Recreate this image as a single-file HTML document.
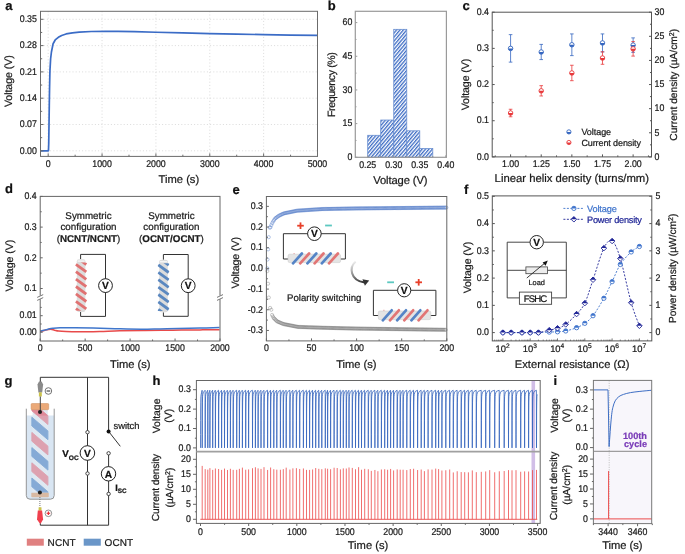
<!DOCTYPE html>
<html><head><meta charset="utf-8"><style>
html,body{margin:0;padding:0;background:#fff;}
body{width:685px;height:554px;overflow:hidden;}
svg{display:block;font-family:"Liberation Sans", sans-serif;will-change:transform;text-rendering:geometricPrecision;}
text{stroke:currentColor;stroke-width:0.22px;}
</style></head><body>
<svg width="685" height="554" viewBox="0 0 685 554">
<defs>
<pattern id="hatch" patternUnits="userSpaceOnUse" width="2.6" height="2.6" patternTransform="rotate(40)">
<rect width="2.6" height="2.6" fill="#fff"/><rect x="0" y="0" width="1.3" height="2.6" fill="#3d6cc4"/>
</pattern>
</defs>
<rect width="685" height="554" fill="#fff"/>
<line x1="48.2" y1="11.3" x2="48.2" y2="156.4" stroke="#d2d2d2" stroke-width="0.8" stroke-dasharray="1 2.2"/>
<line x1="102.06" y1="11.3" x2="102.06" y2="156.4" stroke="#d2d2d2" stroke-width="0.8" stroke-dasharray="1 2.2"/>
<line x1="155.92" y1="11.3" x2="155.92" y2="156.4" stroke="#d2d2d2" stroke-width="0.8" stroke-dasharray="1 2.2"/>
<line x1="209.78" y1="11.3" x2="209.78" y2="156.4" stroke="#d2d2d2" stroke-width="0.8" stroke-dasharray="1 2.2"/>
<line x1="263.64" y1="11.3" x2="263.64" y2="156.4" stroke="#d2d2d2" stroke-width="0.8" stroke-dasharray="1 2.2"/>
<line x1="40.5" y1="150.8" x2="317.5" y2="150.8" stroke="#d2d2d2" stroke-width="0.8" stroke-dasharray="1 2.2"/>
<line x1="40.5" y1="124.5" x2="317.5" y2="124.5" stroke="#d2d2d2" stroke-width="0.8" stroke-dasharray="1 2.2"/>
<line x1="40.5" y1="98.2" x2="317.5" y2="98.2" stroke="#d2d2d2" stroke-width="0.8" stroke-dasharray="1 2.2"/>
<line x1="40.5" y1="71.9" x2="317.5" y2="71.9" stroke="#d2d2d2" stroke-width="0.8" stroke-dasharray="1 2.2"/>
<line x1="40.5" y1="45.6" x2="317.5" y2="45.6" stroke="#d2d2d2" stroke-width="0.8" stroke-dasharray="1 2.2"/>
<line x1="40.5" y1="19.31" x2="317.5" y2="19.31" stroke="#d2d2d2" stroke-width="0.8" stroke-dasharray="1 2.2"/>
<path d="M40.12 150.8 L48.2 150.8 L48.47 150.8 L48.74 143.29 L49.01 124.5 L49.28 105.72 L49.55 88.81 L49.92 71.15 L50.62 58.75 L51.43 51.99 L53.1 43.73 L55.2 39.97 L58.33 37.34 L61.67 35.46 L66.08 33.96 L72.44 32.83 L79.22 32.08 L91.29 31.52 L105.4 31.33 L118.22 31.4 L134.38 31.7 L155.92 32.27 L182.85 32.91 L209.78 33.58 L236.71 34.15 L263.64 34.63 L290.57 35.08 L317.5 35.46" stroke="#3b6cc6" stroke-width="1.7" fill="none" stroke-linejoin="round"/>
<rect x="40.5" y="11.3" width="277" height="145.1" fill="none" stroke="#6b6b6b" stroke-width="1"/>
<line x1="40.5" y1="150.8" x2="43.5" y2="150.8" stroke="#6b6b6b" stroke-width="1"/>
<line x1="40.5" y1="124.5" x2="43.5" y2="124.5" stroke="#6b6b6b" stroke-width="1"/>
<line x1="40.5" y1="98.2" x2="43.5" y2="98.2" stroke="#6b6b6b" stroke-width="1"/>
<line x1="40.5" y1="71.9" x2="43.5" y2="71.9" stroke="#6b6b6b" stroke-width="1"/>
<line x1="40.5" y1="45.6" x2="43.5" y2="45.6" stroke="#6b6b6b" stroke-width="1"/>
<line x1="40.5" y1="19.31" x2="43.5" y2="19.31" stroke="#6b6b6b" stroke-width="1"/>
<line x1="40.5" y1="137.65" x2="42.2" y2="137.65" stroke="#6b6b6b" stroke-width="1"/>
<line x1="40.5" y1="111.35" x2="42.2" y2="111.35" stroke="#6b6b6b" stroke-width="1"/>
<line x1="40.5" y1="85.05" x2="42.2" y2="85.05" stroke="#6b6b6b" stroke-width="1"/>
<line x1="40.5" y1="58.75" x2="42.2" y2="58.75" stroke="#6b6b6b" stroke-width="1"/>
<line x1="40.5" y1="32.45" x2="42.2" y2="32.45" stroke="#6b6b6b" stroke-width="1"/>
<line x1="48.2" y1="156.4" x2="48.2" y2="153.4" stroke="#6b6b6b" stroke-width="1"/>
<line x1="102.06" y1="156.4" x2="102.06" y2="153.4" stroke="#6b6b6b" stroke-width="1"/>
<line x1="155.92" y1="156.4" x2="155.92" y2="153.4" stroke="#6b6b6b" stroke-width="1"/>
<line x1="209.78" y1="156.4" x2="209.78" y2="153.4" stroke="#6b6b6b" stroke-width="1"/>
<line x1="263.64" y1="156.4" x2="263.64" y2="153.4" stroke="#6b6b6b" stroke-width="1"/>
<line x1="317.5" y1="156.4" x2="317.5" y2="153.4" stroke="#6b6b6b" stroke-width="1"/>
<line x1="75.13" y1="156.4" x2="75.13" y2="154.7" stroke="#6b6b6b" stroke-width="1"/>
<line x1="128.99" y1="156.4" x2="128.99" y2="154.7" stroke="#6b6b6b" stroke-width="1"/>
<line x1="182.85" y1="156.4" x2="182.85" y2="154.7" stroke="#6b6b6b" stroke-width="1"/>
<line x1="236.71" y1="156.4" x2="236.71" y2="154.7" stroke="#6b6b6b" stroke-width="1"/>
<line x1="290.57" y1="156.4" x2="290.57" y2="154.7" stroke="#6b6b6b" stroke-width="1"/>
<text x="36.9" y="153.55" font-size="9.7" text-anchor="end" fill="#1a1a1a" color="#1a1a1a" textLength="17.12" lengthAdjust="spacingAndGlyphs">0.00</text>
<text x="36.9" y="127.25" font-size="9.7" text-anchor="end" fill="#1a1a1a" color="#1a1a1a" textLength="17.12" lengthAdjust="spacingAndGlyphs">0.07</text>
<text x="36.9" y="100.95" font-size="9.7" text-anchor="end" fill="#1a1a1a" color="#1a1a1a" textLength="17.12" lengthAdjust="spacingAndGlyphs">0.14</text>
<text x="36.9" y="74.65" font-size="9.7" text-anchor="end" fill="#1a1a1a" color="#1a1a1a" textLength="17.12" lengthAdjust="spacingAndGlyphs">0.21</text>
<text x="36.9" y="48.35" font-size="9.7" text-anchor="end" fill="#1a1a1a" color="#1a1a1a" textLength="17.12" lengthAdjust="spacingAndGlyphs">0.28</text>
<text x="36.9" y="22.06" font-size="9.7" text-anchor="end" fill="#1a1a1a" color="#1a1a1a" textLength="17.12" lengthAdjust="spacingAndGlyphs">0.35</text>
<text x="48.2" y="166.9" font-size="9.7" text-anchor="middle" fill="#1a1a1a" color="#1a1a1a" textLength="4.89" lengthAdjust="spacingAndGlyphs">0</text>
<text x="102.06" y="166.9" font-size="9.7" text-anchor="middle" fill="#1a1a1a" color="#1a1a1a" textLength="19.57" lengthAdjust="spacingAndGlyphs">1000</text>
<text x="155.92" y="166.9" font-size="9.7" text-anchor="middle" fill="#1a1a1a" color="#1a1a1a" textLength="19.57" lengthAdjust="spacingAndGlyphs">2000</text>
<text x="209.78" y="166.9" font-size="9.7" text-anchor="middle" fill="#1a1a1a" color="#1a1a1a" textLength="19.57" lengthAdjust="spacingAndGlyphs">3000</text>
<text x="263.64" y="166.9" font-size="9.7" text-anchor="middle" fill="#1a1a1a" color="#1a1a1a" textLength="19.57" lengthAdjust="spacingAndGlyphs">4000</text>
<text x="317.5" y="166.9" font-size="9.7" text-anchor="middle" fill="#1a1a1a" color="#1a1a1a" textLength="19.57" lengthAdjust="spacingAndGlyphs">5000</text>
<text x="178.85" y="182.9" font-size="11.2" text-anchor="middle" fill="#1a1a1a" color="#1a1a1a" textLength="40.7">Time (s)</text>
<text x="12.3" y="81.2" font-size="10.6" text-anchor="middle" fill="#1a1a1a" color="#1a1a1a" transform="rotate(-90 12.3 81.2)" textLength="51.8">Voltage (V)</text>
<text x="5.2" y="9.7" font-size="13" text-anchor="start" fill="#111" color="#111" font-weight="bold">a</text>
<rect x="367.7" y="135.3" width="13.02" height="22" fill="url(#hatch)" stroke="#6a8fd0" stroke-width="0.8"/>
<rect x="380.72" y="120.03" width="13.02" height="37.27" fill="url(#hatch)" stroke="#6a8fd0" stroke-width="0.8"/>
<rect x="393.74" y="29.34" width="13.02" height="127.97" fill="url(#hatch)" stroke="#6a8fd0" stroke-width="0.8"/>
<rect x="406.75" y="130.81" width="13.02" height="26.49" fill="url(#hatch)" stroke="#6a8fd0" stroke-width="0.8"/>
<rect x="419.77" y="148.54" width="13.02" height="8.76" fill="url(#hatch)" stroke="#6a8fd0" stroke-width="0.8"/>
<rect x="355.3" y="11.3" width="91.1" height="146" fill="none" stroke="#9a9a9a" stroke-width="1.2"/>
<line x1="355.3" y1="157.3" x2="357.3" y2="157.3" stroke="#9a9a9a" stroke-width="1"/>
<line x1="355.3" y1="123.62" x2="357.3" y2="123.62" stroke="#9a9a9a" stroke-width="1"/>
<line x1="355.3" y1="89.95" x2="357.3" y2="89.95" stroke="#9a9a9a" stroke-width="1"/>
<line x1="355.3" y1="56.28" x2="357.3" y2="56.28" stroke="#9a9a9a" stroke-width="1"/>
<line x1="355.3" y1="22.6" x2="357.3" y2="22.6" stroke="#9a9a9a" stroke-width="1"/>
<line x1="355.3" y1="140.46" x2="356.5" y2="140.46" stroke="#9a9a9a" stroke-width="1"/>
<line x1="355.3" y1="106.79" x2="356.5" y2="106.79" stroke="#9a9a9a" stroke-width="1"/>
<line x1="355.3" y1="73.11" x2="356.5" y2="73.11" stroke="#9a9a9a" stroke-width="1"/>
<line x1="355.3" y1="39.44" x2="356.5" y2="39.44" stroke="#9a9a9a" stroke-width="1"/>
<line x1="367.7" y1="157.3" x2="367.7" y2="155.3" stroke="#9a9a9a" stroke-width="1"/>
<line x1="393.74" y1="157.3" x2="393.74" y2="155.3" stroke="#9a9a9a" stroke-width="1"/>
<line x1="419.77" y1="157.3" x2="419.77" y2="155.3" stroke="#9a9a9a" stroke-width="1"/>
<line x1="445.81" y1="157.3" x2="445.81" y2="155.3" stroke="#9a9a9a" stroke-width="1"/>
<line x1="380.72" y1="157.3" x2="380.72" y2="156.1" stroke="#9a9a9a" stroke-width="1"/>
<line x1="406.75" y1="157.3" x2="406.75" y2="156.1" stroke="#9a9a9a" stroke-width="1"/>
<line x1="432.79" y1="157.3" x2="432.79" y2="156.1" stroke="#9a9a9a" stroke-width="1"/>
<text x="352.3" y="160.05" font-size="9.7" text-anchor="end" fill="#1a1a1a" color="#1a1a1a" textLength="4.89" lengthAdjust="spacingAndGlyphs">0</text>
<text x="352.3" y="126.38" font-size="9.7" text-anchor="end" fill="#1a1a1a" color="#1a1a1a" textLength="9.79" lengthAdjust="spacingAndGlyphs">15</text>
<text x="352.3" y="92.7" font-size="9.7" text-anchor="end" fill="#1a1a1a" color="#1a1a1a" textLength="9.79" lengthAdjust="spacingAndGlyphs">30</text>
<text x="352.3" y="59.03" font-size="9.7" text-anchor="end" fill="#1a1a1a" color="#1a1a1a" textLength="9.79" lengthAdjust="spacingAndGlyphs">45</text>
<text x="352.3" y="25.35" font-size="9.7" text-anchor="end" fill="#1a1a1a" color="#1a1a1a" textLength="9.79" lengthAdjust="spacingAndGlyphs">60</text>
<text x="367.7" y="167.6" font-size="9.7" text-anchor="middle" fill="#1a1a1a" color="#1a1a1a" textLength="17.12" lengthAdjust="spacingAndGlyphs">0.25</text>
<text x="393.74" y="167.6" font-size="9.7" text-anchor="middle" fill="#1a1a1a" color="#1a1a1a" textLength="17.12" lengthAdjust="spacingAndGlyphs">0.30</text>
<text x="419.77" y="167.6" font-size="9.7" text-anchor="middle" fill="#1a1a1a" color="#1a1a1a" textLength="17.12" lengthAdjust="spacingAndGlyphs">0.35</text>
<text x="445.81" y="167.6" font-size="9.7" text-anchor="middle" fill="#1a1a1a" color="#1a1a1a" textLength="17.12" lengthAdjust="spacingAndGlyphs">0.40</text>
<text x="400.35" y="183.8" font-size="11.2" text-anchor="middle" fill="#1a1a1a" color="#1a1a1a" textLength="54.3">Voltage (V)</text>
<text x="335.5" y="84.6" font-size="10.6" text-anchor="middle" fill="#1a1a1a" color="#1a1a1a" transform="rotate(-90 335.5 84.6)" textLength="64.9">Frequency (%)</text>
<text x="327.7" y="9.8" font-size="13" text-anchor="start" fill="#111" color="#111" font-weight="bold">b</text>
<line x1="510.58" y1="34.63" x2="510.58" y2="62.12" stroke="#3566c0" stroke-width="0.8"/>
<line x1="508.78" y1="34.63" x2="512.38" y2="34.63" stroke="#3566c0" stroke-width="0.8"/>
<line x1="508.78" y1="62.12" x2="512.38" y2="62.12" stroke="#3566c0" stroke-width="0.8"/>
<line x1="541.22" y1="44.4" x2="541.22" y2="59.59" stroke="#3566c0" stroke-width="0.8"/>
<line x1="539.42" y1="44.4" x2="543.02" y2="44.4" stroke="#3566c0" stroke-width="0.8"/>
<line x1="539.42" y1="59.59" x2="543.02" y2="59.59" stroke="#3566c0" stroke-width="0.8"/>
<line x1="571.85" y1="33.91" x2="571.85" y2="55.61" stroke="#3566c0" stroke-width="0.8"/>
<line x1="570.05" y1="33.91" x2="573.65" y2="33.91" stroke="#3566c0" stroke-width="0.8"/>
<line x1="570.05" y1="55.61" x2="573.65" y2="55.61" stroke="#3566c0" stroke-width="0.8"/>
<line x1="602.49" y1="33.91" x2="602.49" y2="51.99" stroke="#3566c0" stroke-width="0.8"/>
<line x1="600.69" y1="33.91" x2="604.29" y2="33.91" stroke="#3566c0" stroke-width="0.8"/>
<line x1="600.69" y1="51.99" x2="604.29" y2="51.99" stroke="#3566c0" stroke-width="0.8"/>
<line x1="633.12" y1="37.88" x2="633.12" y2="52.35" stroke="#3566c0" stroke-width="0.8"/>
<line x1="631.32" y1="37.88" x2="634.92" y2="37.88" stroke="#3566c0" stroke-width="0.8"/>
<line x1="631.32" y1="52.35" x2="634.92" y2="52.35" stroke="#3566c0" stroke-width="0.8"/>
<line x1="510.58" y1="109.25" x2="510.58" y2="116.77" stroke="#e8383a" stroke-width="0.8"/>
<line x1="508.78" y1="109.25" x2="512.38" y2="109.25" stroke="#e8383a" stroke-width="0.8"/>
<line x1="508.78" y1="116.77" x2="512.38" y2="116.77" stroke="#e8383a" stroke-width="0.8"/>
<line x1="541.22" y1="85.66" x2="541.22" y2="95.98" stroke="#e8383a" stroke-width="0.8"/>
<line x1="539.42" y1="85.66" x2="543.02" y2="85.66" stroke="#e8383a" stroke-width="0.8"/>
<line x1="539.42" y1="95.98" x2="543.02" y2="95.98" stroke="#e8383a" stroke-width="0.8"/>
<line x1="571.85" y1="65.26" x2="571.85" y2="80.69" stroke="#e8383a" stroke-width="0.8"/>
<line x1="570.05" y1="65.26" x2="573.65" y2="65.26" stroke="#e8383a" stroke-width="0.8"/>
<line x1="570.05" y1="80.69" x2="573.65" y2="80.69" stroke="#e8383a" stroke-width="0.8"/>
<line x1="602.49" y1="51.75" x2="602.49" y2="64.29" stroke="#e8383a" stroke-width="0.8"/>
<line x1="600.69" y1="51.75" x2="604.29" y2="51.75" stroke="#e8383a" stroke-width="0.8"/>
<line x1="600.69" y1="64.29" x2="604.29" y2="64.29" stroke="#e8383a" stroke-width="0.8"/>
<line x1="633.12" y1="41.62" x2="633.12" y2="56.09" stroke="#e8383a" stroke-width="0.8"/>
<line x1="631.32" y1="41.62" x2="634.92" y2="41.62" stroke="#e8383a" stroke-width="0.8"/>
<line x1="631.32" y1="56.09" x2="634.92" y2="56.09" stroke="#e8383a" stroke-width="0.8"/>
<circle cx="510.58" cy="48.38" r="2.25" fill="#fff" stroke="#3566c0" stroke-width="0.9"/>
<path d="M508.33 48.38 A2.25 2.25 0 0 0 512.83 48.38 Z" stroke="none" stroke-width="1" fill="#3566c0"/>
<circle cx="541.22" cy="51.99" r="2.25" fill="#fff" stroke="#3566c0" stroke-width="0.9"/>
<path d="M538.97 51.99 A2.25 2.25 0 0 0 543.47 51.99 Z" stroke="none" stroke-width="1" fill="#3566c0"/>
<circle cx="571.85" cy="44.76" r="2.25" fill="#fff" stroke="#3566c0" stroke-width="0.9"/>
<path d="M569.6 44.76 A2.25 2.25 0 0 0 574.1 44.76 Z" stroke="none" stroke-width="1" fill="#3566c0"/>
<circle cx="602.49" cy="42.95" r="2.25" fill="#fff" stroke="#3566c0" stroke-width="0.9"/>
<path d="M600.24 42.95 A2.25 2.25 0 0 0 604.74 42.95 Z" stroke="none" stroke-width="1" fill="#3566c0"/>
<circle cx="633.12" cy="45.12" r="2.25" fill="#fff" stroke="#3566c0" stroke-width="0.9"/>
<path d="M630.87 45.12 A2.25 2.25 0 0 0 635.37 45.12 Z" stroke="none" stroke-width="1" fill="#3566c0"/>
<circle cx="510.58" cy="113.01" r="2.25" fill="#fff" stroke="#e8383a" stroke-width="0.9"/>
<path d="M508.33 113.01 A2.25 2.25 0 0 0 512.83 113.01 Z" stroke="none" stroke-width="1" fill="#e8383a"/>
<circle cx="541.22" cy="90.82" r="2.25" fill="#fff" stroke="#e8383a" stroke-width="0.9"/>
<path d="M538.97 90.82 A2.25 2.25 0 0 0 543.47 90.82 Z" stroke="none" stroke-width="1" fill="#e8383a"/>
<circle cx="571.85" cy="72.97" r="2.25" fill="#fff" stroke="#e8383a" stroke-width="0.9"/>
<path d="M569.6 72.97 A2.25 2.25 0 0 0 574.1 72.97 Z" stroke="none" stroke-width="1" fill="#e8383a"/>
<circle cx="602.49" cy="58.02" r="2.25" fill="#fff" stroke="#e8383a" stroke-width="0.9"/>
<path d="M600.24 58.02 A2.25 2.25 0 0 0 604.74 58.02 Z" stroke="none" stroke-width="1" fill="#e8383a"/>
<circle cx="633.12" cy="48.86" r="2.25" fill="#fff" stroke="#e8383a" stroke-width="0.9"/>
<path d="M630.87 48.86 A2.25 2.25 0 0 0 635.37 48.86 Z" stroke="none" stroke-width="1" fill="#e8383a"/>
<rect x="492.2" y="12.2" width="159.3" height="144.7" fill="none" stroke="#555" stroke-width="1"/>
<line x1="492.2" y1="156.9" x2="494.7" y2="156.9" stroke="#555" stroke-width="1"/>
<line x1="492.2" y1="120.72" x2="494.7" y2="120.72" stroke="#555" stroke-width="1"/>
<line x1="492.2" y1="84.55" x2="494.7" y2="84.55" stroke="#555" stroke-width="1"/>
<line x1="492.2" y1="48.38" x2="494.7" y2="48.38" stroke="#555" stroke-width="1"/>
<line x1="492.2" y1="12.2" x2="494.7" y2="12.2" stroke="#555" stroke-width="1"/>
<line x1="492.2" y1="138.81" x2="493.7" y2="138.81" stroke="#555" stroke-width="1"/>
<line x1="492.2" y1="102.64" x2="493.7" y2="102.64" stroke="#555" stroke-width="1"/>
<line x1="492.2" y1="66.46" x2="493.7" y2="66.46" stroke="#555" stroke-width="1"/>
<line x1="492.2" y1="30.29" x2="493.7" y2="30.29" stroke="#555" stroke-width="1"/>
<line x1="651.5" y1="156.9" x2="649" y2="156.9" stroke="#555" stroke-width="1"/>
<line x1="651.5" y1="132.78" x2="649" y2="132.78" stroke="#555" stroke-width="1"/>
<line x1="651.5" y1="108.67" x2="649" y2="108.67" stroke="#555" stroke-width="1"/>
<line x1="651.5" y1="84.55" x2="649" y2="84.55" stroke="#555" stroke-width="1"/>
<line x1="651.5" y1="60.43" x2="649" y2="60.43" stroke="#555" stroke-width="1"/>
<line x1="651.5" y1="36.32" x2="649" y2="36.32" stroke="#555" stroke-width="1"/>
<line x1="651.5" y1="12.2" x2="649" y2="12.2" stroke="#555" stroke-width="1"/>
<line x1="651.5" y1="144.84" x2="650" y2="144.84" stroke="#555" stroke-width="1"/>
<line x1="651.5" y1="120.73" x2="650" y2="120.73" stroke="#555" stroke-width="1"/>
<line x1="651.5" y1="96.61" x2="650" y2="96.61" stroke="#555" stroke-width="1"/>
<line x1="651.5" y1="72.49" x2="650" y2="72.49" stroke="#555" stroke-width="1"/>
<line x1="651.5" y1="48.38" x2="650" y2="48.38" stroke="#555" stroke-width="1"/>
<line x1="651.5" y1="24.26" x2="650" y2="24.26" stroke="#555" stroke-width="1"/>
<line x1="510.58" y1="156.9" x2="510.58" y2="154.4" stroke="#555" stroke-width="1"/>
<line x1="541.22" y1="156.9" x2="541.22" y2="154.4" stroke="#555" stroke-width="1"/>
<line x1="571.85" y1="156.9" x2="571.85" y2="154.4" stroke="#555" stroke-width="1"/>
<line x1="602.49" y1="156.9" x2="602.49" y2="154.4" stroke="#555" stroke-width="1"/>
<line x1="633.12" y1="156.9" x2="633.12" y2="154.4" stroke="#555" stroke-width="1"/>
<line x1="495.26" y1="156.9" x2="495.26" y2="155.4" stroke="#555" stroke-width="1"/>
<line x1="525.9" y1="156.9" x2="525.9" y2="155.4" stroke="#555" stroke-width="1"/>
<line x1="556.53" y1="156.9" x2="556.53" y2="155.4" stroke="#555" stroke-width="1"/>
<line x1="587.17" y1="156.9" x2="587.17" y2="155.4" stroke="#555" stroke-width="1"/>
<line x1="617.8" y1="156.9" x2="617.8" y2="155.4" stroke="#555" stroke-width="1"/>
<line x1="648.44" y1="156.9" x2="648.44" y2="155.4" stroke="#555" stroke-width="1"/>
<text x="489" y="159.65" font-size="9.7" text-anchor="end" fill="#1a1a1a" color="#1a1a1a" textLength="12.23" lengthAdjust="spacingAndGlyphs">0.0</text>
<text x="489" y="123.47" font-size="9.7" text-anchor="end" fill="#1a1a1a" color="#1a1a1a" textLength="12.23" lengthAdjust="spacingAndGlyphs">0.1</text>
<text x="489" y="87.3" font-size="9.7" text-anchor="end" fill="#1a1a1a" color="#1a1a1a" textLength="12.23" lengthAdjust="spacingAndGlyphs">0.2</text>
<text x="489" y="51.13" font-size="9.7" text-anchor="end" fill="#1a1a1a" color="#1a1a1a" textLength="12.23" lengthAdjust="spacingAndGlyphs">0.3</text>
<text x="489" y="14.95" font-size="9.7" text-anchor="end" fill="#1a1a1a" color="#1a1a1a" textLength="12.23" lengthAdjust="spacingAndGlyphs">0.4</text>
<text x="654.5" y="159.65" font-size="9.7" text-anchor="start" fill="#1a1a1a" color="#1a1a1a" textLength="4.89" lengthAdjust="spacingAndGlyphs">0</text>
<text x="654.5" y="135.53" font-size="9.7" text-anchor="start" fill="#1a1a1a" color="#1a1a1a" textLength="4.89" lengthAdjust="spacingAndGlyphs">5</text>
<text x="654.5" y="111.42" font-size="9.7" text-anchor="start" fill="#1a1a1a" color="#1a1a1a" textLength="9.79" lengthAdjust="spacingAndGlyphs">10</text>
<text x="654.5" y="87.3" font-size="9.7" text-anchor="start" fill="#1a1a1a" color="#1a1a1a" textLength="9.79" lengthAdjust="spacingAndGlyphs">15</text>
<text x="654.5" y="63.18" font-size="9.7" text-anchor="start" fill="#1a1a1a" color="#1a1a1a" textLength="9.79" lengthAdjust="spacingAndGlyphs">20</text>
<text x="654.5" y="39.07" font-size="9.7" text-anchor="start" fill="#1a1a1a" color="#1a1a1a" textLength="9.79" lengthAdjust="spacingAndGlyphs">25</text>
<text x="654.5" y="14.95" font-size="9.7" text-anchor="start" fill="#1a1a1a" color="#1a1a1a" textLength="9.79" lengthAdjust="spacingAndGlyphs">30</text>
<text x="510.58" y="166.8" font-size="9.7" text-anchor="middle" fill="#1a1a1a" color="#1a1a1a" textLength="17.12" lengthAdjust="spacingAndGlyphs">1.00</text>
<text x="541.22" y="166.8" font-size="9.7" text-anchor="middle" fill="#1a1a1a" color="#1a1a1a" textLength="17.12" lengthAdjust="spacingAndGlyphs">1.25</text>
<text x="571.85" y="166.8" font-size="9.7" text-anchor="middle" fill="#1a1a1a" color="#1a1a1a" textLength="17.12" lengthAdjust="spacingAndGlyphs">1.50</text>
<text x="602.49" y="166.8" font-size="9.7" text-anchor="middle" fill="#1a1a1a" color="#1a1a1a" textLength="17.12" lengthAdjust="spacingAndGlyphs">1.75</text>
<text x="633.12" y="166.8" font-size="9.7" text-anchor="middle" fill="#1a1a1a" color="#1a1a1a" textLength="17.12" lengthAdjust="spacingAndGlyphs">2.00</text>
<text x="571.8" y="182" font-size="11.3" text-anchor="middle" fill="#1a1a1a" color="#1a1a1a" textLength="154.4">Linear helix density (turns/mm)</text>
<text x="468.8" y="84.5" font-size="10.6" text-anchor="middle" fill="#1a1a1a" color="#1a1a1a" transform="rotate(-90 468.8 84.5)" textLength="51.6">Voltage (V)</text>
<text x="677.5" y="84.8" font-size="10.200000000000001" text-anchor="middle" fill="#1a1a1a" color="#1a1a1a" transform="rotate(-90 677.5 84.8)">Current density (µA/cm<tspan dy="-3.5" font-size="7">2</tspan><tspan dy="3.5">)</tspan></text>
<circle cx="568.9" cy="131.9" r="2.1" fill="#fff" stroke="#3566c0" stroke-width="0.9"/>
<path d="M566.8 131.9 A2.1 2.1 0 0 0 571 131.9 Z" stroke="none" stroke-width="1" fill="#3566c0"/>
<circle cx="568.9" cy="142.5" r="2.1" fill="#fff" stroke="#e8383a" stroke-width="0.9"/>
<path d="M566.8 142.5 A2.1 2.1 0 0 0 571 142.5 Z" stroke="none" stroke-width="1" fill="#e8383a"/>
<text x="581.4" y="135.2" font-size="9.0" text-anchor="start" fill="#1a1a1a" color="#1a1a1a" textLength="29.7">Voltage</text>
<text x="581.4" y="145.8" font-size="9.0" text-anchor="start" fill="#1a1a1a" color="#1a1a1a" textLength="59.6">Current density</text>
<text x="462.5" y="9.7" font-size="13" text-anchor="start" fill="#111" color="#111" font-weight="bold">c</text>
<path d="M40.2 331.5 C41 331.28 43.27 330.57 45 330.2 C46.73 329.83 49.02 329.3 50.6 329.3 C52.18 329.3 53.17 329.9 54.5 330.2 C55.83 330.5 56.68 330.87 58.6 331.1 C60.52 331.33 62.43 331.48 66 331.6 C69.57 331.72 74.33 331.83 80 331.8 C85.67 331.77 93.38 331.57 100 331.4 C106.62 331.23 112.2 330.95 119.7 330.8 C127.2 330.65 136.15 330.6 145 330.5 C153.85 330.4 163.63 330.3 172.8 330.2 C181.97 330.1 192.22 329.98 200 329.9 C207.78 329.82 216.25 329.73 219.5 329.7" stroke="#e84a4a" stroke-width="1.5" fill="none"/>
<path d="M40.2 331.3 C40.83 331.12 42.7 330.55 44 330.2 C45.3 329.85 46.5 329.52 48 329.2 C49.5 328.88 51 328.53 53 328.3 C55 328.07 56.33 327.88 60 327.8 C63.67 327.72 69.5 327.75 75 327.8 C80.5 327.85 86.33 327.95 93 328.1 C99.67 328.25 107 328.52 115 328.7 C123 328.88 133.5 329.17 141 329.2 C148.5 329.23 153.83 329 160 328.9 C166.17 328.8 171.33 328.73 178 328.6 C184.67 328.47 193.08 328.27 200 328.1 C206.92 327.93 216.25 327.68 219.5 327.6" stroke="#3f76cc" stroke-width="1.5" fill="none"/>
<rect x="40.2" y="196.4" width="179.8" height="144.6" fill="none" stroke="#666" stroke-width="1"/>
<line x1="40.2" y1="288.5" x2="42.7" y2="288.5" stroke="#666" stroke-width="1"/>
<line x1="40.2" y1="257.8" x2="42.7" y2="257.8" stroke="#666" stroke-width="1"/>
<line x1="40.2" y1="227.1" x2="42.7" y2="227.1" stroke="#666" stroke-width="1"/>
<line x1="40.2" y1="196.4" x2="42.7" y2="196.4" stroke="#666" stroke-width="1"/>
<line x1="40.2" y1="273.15" x2="41.7" y2="273.15" stroke="#666" stroke-width="1"/>
<line x1="40.2" y1="242.45" x2="41.7" y2="242.45" stroke="#666" stroke-width="1"/>
<line x1="40.2" y1="211.75" x2="41.7" y2="211.75" stroke="#666" stroke-width="1"/>
<line x1="40.2" y1="332.3" x2="42.7" y2="332.3" stroke="#666" stroke-width="1"/>
<line x1="40.2" y1="315.7" x2="42.7" y2="315.7" stroke="#666" stroke-width="1"/>
<line x1="40.2" y1="324" x2="41.7" y2="324" stroke="#666" stroke-width="1"/>
<line x1="40.2" y1="307.4" x2="41.7" y2="307.4" stroke="#666" stroke-width="1"/>
<line x1="40.2" y1="341" x2="40.2" y2="338.5" stroke="#666" stroke-width="1"/>
<line x1="85.15" y1="341" x2="85.15" y2="338.5" stroke="#666" stroke-width="1"/>
<line x1="130.1" y1="341" x2="130.1" y2="338.5" stroke="#666" stroke-width="1"/>
<line x1="175.05" y1="341" x2="175.05" y2="338.5" stroke="#666" stroke-width="1"/>
<line x1="220" y1="341" x2="220" y2="338.5" stroke="#666" stroke-width="1"/>
<line x1="62.67" y1="341" x2="62.67" y2="339.5" stroke="#666" stroke-width="1"/>
<line x1="107.62" y1="341" x2="107.62" y2="339.5" stroke="#666" stroke-width="1"/>
<line x1="152.57" y1="341" x2="152.57" y2="339.5" stroke="#666" stroke-width="1"/>
<line x1="197.52" y1="341" x2="197.52" y2="339.5" stroke="#666" stroke-width="1"/>
<rect x="37.2" y="295.6" width="6" height="3.6" fill="#fff" stroke="none" stroke-width="1"/>
<line x1="37.2" y1="297.4" x2="43.2" y2="294.6" stroke="#666" stroke-width="0.9"/>
<line x1="37.2" y1="300.4" x2="43.2" y2="297.6" stroke="#666" stroke-width="0.9"/>
<rect x="217" y="295.6" width="6" height="3.6" fill="#fff" stroke="none" stroke-width="1"/>
<line x1="217" y1="297.4" x2="223" y2="294.6" stroke="#666" stroke-width="0.9"/>
<line x1="217" y1="300.4" x2="223" y2="297.6" stroke="#666" stroke-width="0.9"/>
<text x="36.7" y="291.25" font-size="9.7" text-anchor="end" fill="#1a1a1a" color="#1a1a1a" textLength="12.23" lengthAdjust="spacingAndGlyphs">0.1</text>
<text x="36.7" y="260.55" font-size="9.7" text-anchor="end" fill="#1a1a1a" color="#1a1a1a" textLength="12.23" lengthAdjust="spacingAndGlyphs">0.2</text>
<text x="36.7" y="229.85" font-size="9.7" text-anchor="end" fill="#1a1a1a" color="#1a1a1a" textLength="12.23" lengthAdjust="spacingAndGlyphs">0.3</text>
<text x="36.7" y="199.15" font-size="9.7" text-anchor="end" fill="#1a1a1a" color="#1a1a1a" textLength="12.23" lengthAdjust="spacingAndGlyphs">0.4</text>
<text x="36.7" y="335.05" font-size="9.7" text-anchor="end" fill="#1a1a1a" color="#1a1a1a" textLength="17.12" lengthAdjust="spacingAndGlyphs">0.00</text>
<text x="36.7" y="318.45" font-size="9.7" text-anchor="end" fill="#1a1a1a" color="#1a1a1a" textLength="17.12" lengthAdjust="spacingAndGlyphs">0.01</text>
<text x="40.2" y="351" font-size="9.7" text-anchor="middle" fill="#1a1a1a" color="#1a1a1a" textLength="4.89" lengthAdjust="spacingAndGlyphs">0</text>
<text x="85.15" y="351" font-size="9.7" text-anchor="middle" fill="#1a1a1a" color="#1a1a1a" textLength="14.68" lengthAdjust="spacingAndGlyphs">500</text>
<text x="130.1" y="351" font-size="9.7" text-anchor="middle" fill="#1a1a1a" color="#1a1a1a" textLength="19.57" lengthAdjust="spacingAndGlyphs">1000</text>
<text x="175.05" y="351" font-size="9.7" text-anchor="middle" fill="#1a1a1a" color="#1a1a1a" textLength="19.57" lengthAdjust="spacingAndGlyphs">1500</text>
<text x="220" y="351" font-size="9.7" text-anchor="middle" fill="#1a1a1a" color="#1a1a1a" textLength="19.57" lengthAdjust="spacingAndGlyphs">2000</text>
<text x="130.3" y="368.1" font-size="11.2" text-anchor="middle" fill="#1a1a1a" color="#1a1a1a" textLength="40.6">Time (s)</text>
<text x="12.9" y="265.7" font-size="10.6" text-anchor="middle" fill="#1a1a1a" color="#1a1a1a" transform="rotate(-90 12.9 265.7)" textLength="51.8">Voltage (V)</text>
<text x="5" y="193.4" font-size="13" text-anchor="start" fill="#111" color="#111" font-weight="bold">d</text>
<path d="M80.6 259.2 L80.6 254.4 L105.5 254.4 L105.5 316.4 L80.6 316.4 L80.6 312" stroke="#333" stroke-width="1" fill="none"/>
<rect x="76.8" y="259.2" width="8.6" height="52.8" fill="#dcdcdc" stroke="none" stroke-width="1" rx="2" ry="2"/>
<rect x="77.6" y="260.4" width="7" height="1.4" fill="#f5f5f5" stroke="none" stroke-width="1"/>
<clipPath id="cd1"><rect x="75.1" y="262.6" width="12" height="48.2"/></clipPath>
<g clip-path="url(#cd1)"><line x1="75.9" y1="256.9" x2="86.3" y2="264.5" stroke="#e07272" stroke-width="2.8"/><line x1="75.9" y1="264.3" x2="86.3" y2="271.9" stroke="#e07272" stroke-width="2.8"/><line x1="75.9" y1="271.7" x2="86.3" y2="279.3" stroke="#e07272" stroke-width="2.8"/><line x1="75.9" y1="279.1" x2="86.3" y2="286.7" stroke="#e07272" stroke-width="2.8"/><line x1="75.9" y1="286.5" x2="86.3" y2="294.1" stroke="#e07272" stroke-width="2.8"/><line x1="75.9" y1="293.9" x2="86.3" y2="301.5" stroke="#e07272" stroke-width="2.8"/><line x1="75.9" y1="301.3" x2="86.3" y2="308.9" stroke="#e07272" stroke-width="2.8"/><line x1="75.9" y1="308.7" x2="86.3" y2="316.3" stroke="#e07272" stroke-width="2.8"/></g>
<circle cx="105.5" cy="285.6" r="6.9" fill="#fff" stroke="#222" stroke-width="1"/>
<text x="105.5" y="289.2" font-size="10.2" text-anchor="middle" fill="#111" color="#111" font-weight="bold">V</text>
<path d="M163.4 259.8 L163.4 254.5 L188.2 254.5 L188.2 316.3 L163.4 316.3 L163.4 312.3" stroke="#333" stroke-width="1" fill="none"/>
<rect x="159.2" y="259.8" width="8.6" height="52.5" fill="#dcdcdc" stroke="none" stroke-width="1" rx="2" ry="2"/>
<rect x="160" y="261" width="7" height="1.4" fill="#f5f5f5" stroke="none" stroke-width="1"/>
<clipPath id="cd2"><rect x="157.5" y="263.2" width="12" height="47.9"/></clipPath>
<g clip-path="url(#cd2)"><line x1="158.3" y1="257.5" x2="168.7" y2="265.1" stroke="#5b88c0" stroke-width="2.8"/><line x1="158.3" y1="264.9" x2="168.7" y2="272.5" stroke="#5b88c0" stroke-width="2.8"/><line x1="158.3" y1="272.3" x2="168.7" y2="279.9" stroke="#5b88c0" stroke-width="2.8"/><line x1="158.3" y1="279.7" x2="168.7" y2="287.3" stroke="#5b88c0" stroke-width="2.8"/><line x1="158.3" y1="287.1" x2="168.7" y2="294.7" stroke="#5b88c0" stroke-width="2.8"/><line x1="158.3" y1="294.5" x2="168.7" y2="302.1" stroke="#5b88c0" stroke-width="2.8"/><line x1="158.3" y1="301.9" x2="168.7" y2="309.5" stroke="#5b88c0" stroke-width="2.8"/><line x1="158.3" y1="309.3" x2="168.7" y2="316.9" stroke="#5b88c0" stroke-width="2.8"/></g>
<circle cx="188.2" cy="285.7" r="6.9" fill="#fff" stroke="#222" stroke-width="1"/>
<text x="188.2" y="289.3" font-size="10.2" text-anchor="middle" fill="#111" color="#111" font-weight="bold">V</text>
<text x="88.5" y="219" font-size="9.8" text-anchor="middle" fill="#1a1a1a" color="#1a1a1a">Symmetric</text>
<text x="88.5" y="229.8" font-size="9.8" text-anchor="middle" fill="#1a1a1a" color="#1a1a1a">configuration</text>
<text x="88.5" y="241.6" font-size="9.8" text-anchor="middle" fill="#1a1a1a" color="#1a1a1a">(<tspan font-weight="bold">NCNT/NCNT</tspan>)</text>
<text x="171.4" y="219" font-size="9.8" text-anchor="middle" fill="#1a1a1a" color="#1a1a1a">Symmetric</text>
<text x="171.4" y="229.8" font-size="9.8" text-anchor="middle" fill="#1a1a1a" color="#1a1a1a">configuration</text>
<text x="171.4" y="241.6" font-size="9.8" text-anchor="middle" fill="#1a1a1a" color="#1a1a1a">(<tspan font-weight="bold">OCNT/OCNT</tspan>)</text>
<circle cx="267.3" cy="268.4" r="1.6" fill="none" stroke="#3f6cc2" stroke-width="0.38"/>
<circle cx="267.48" cy="259.51" r="1.6" fill="none" stroke="#3f6cc2" stroke-width="0.38"/>
<circle cx="268.11" cy="249.37" r="1.6" fill="none" stroke="#3f6cc2" stroke-width="0.38"/>
<circle cx="268.75" cy="237.17" r="1.6" fill="none" stroke="#3f6cc2" stroke-width="0.38"/>
<circle cx="269.65" cy="227.66" r="1.6" fill="none" stroke="#3f6cc2" stroke-width="0.38"/>
<circle cx="270.46" cy="227.27" r="1.6" fill="none" stroke="#3f6cc2" stroke-width="0.38"/>
<circle cx="271.36" cy="225.03" r="1.6" fill="none" stroke="#3f6cc2" stroke-width="0.38"/>
<circle cx="272.26" cy="223.06" r="1.6" fill="none" stroke="#3f6cc2" stroke-width="0.38"/>
<circle cx="273.16" cy="221.4" r="1.6" fill="none" stroke="#3f6cc2" stroke-width="0.38"/>
<circle cx="274.07" cy="220.05" r="1.6" fill="none" stroke="#3f6cc2" stroke-width="0.38"/>
<circle cx="274.97" cy="218.7" r="1.6" fill="none" stroke="#3f6cc2" stroke-width="0.38"/>
<circle cx="275.87" cy="217.97" r="1.6" fill="none" stroke="#3f6cc2" stroke-width="0.38"/>
<circle cx="276.77" cy="217.31" r="1.6" fill="none" stroke="#3f6cc2" stroke-width="0.38"/>
<circle cx="277.67" cy="216.65" r="1.6" fill="none" stroke="#3f6cc2" stroke-width="0.38"/>
<circle cx="278.58" cy="215.99" r="1.6" fill="none" stroke="#3f6cc2" stroke-width="0.38"/>
<circle cx="279.48" cy="215.46" r="1.6" fill="none" stroke="#3f6cc2" stroke-width="0.38"/>
<circle cx="280.38" cy="215.03" r="1.6" fill="none" stroke="#3f6cc2" stroke-width="0.38"/>
<circle cx="281.28" cy="214.61" r="1.6" fill="none" stroke="#3f6cc2" stroke-width="0.38"/>
<circle cx="282.19" cy="214.19" r="1.6" fill="none" stroke="#3f6cc2" stroke-width="0.38"/>
<circle cx="283.09" cy="213.77" r="1.6" fill="none" stroke="#3f6cc2" stroke-width="0.38"/>
<circle cx="283.99" cy="213.37" r="1.6" fill="none" stroke="#3f6cc2" stroke-width="0.38"/>
<circle cx="284.89" cy="213.19" r="1.6" fill="none" stroke="#3f6cc2" stroke-width="0.38"/>
<circle cx="285.79" cy="213" r="1.6" fill="none" stroke="#3f6cc2" stroke-width="0.38"/>
<circle cx="286.69" cy="212.82" r="1.6" fill="none" stroke="#3f6cc2" stroke-width="0.38"/>
<circle cx="287.6" cy="212.64" r="1.6" fill="none" stroke="#3f6cc2" stroke-width="0.38"/>
<circle cx="288.5" cy="212.45" r="1.6" fill="none" stroke="#3f6cc2" stroke-width="0.38"/>
<circle cx="289.4" cy="212.27" r="1.6" fill="none" stroke="#3f6cc2" stroke-width="0.38"/>
<circle cx="290.3" cy="212.08" r="1.6" fill="none" stroke="#3f6cc2" stroke-width="0.38"/>
<circle cx="291.2" cy="211.9" r="1.6" fill="none" stroke="#3f6cc2" stroke-width="0.38"/>
<circle cx="292.11" cy="211.72" r="1.6" fill="none" stroke="#3f6cc2" stroke-width="0.38"/>
<circle cx="293.01" cy="211.53" r="1.6" fill="none" stroke="#3f6cc2" stroke-width="0.38"/>
<circle cx="293.91" cy="211.35" r="1.6" fill="none" stroke="#3f6cc2" stroke-width="0.38"/>
<circle cx="294.81" cy="211.16" r="1.6" fill="none" stroke="#3f6cc2" stroke-width="0.38"/>
<circle cx="295.71" cy="210.98" r="1.6" fill="none" stroke="#3f6cc2" stroke-width="0.38"/>
<circle cx="296.62" cy="210.79" r="1.6" fill="none" stroke="#3f6cc2" stroke-width="0.38"/>
<circle cx="297.52" cy="210.67" r="1.6" fill="none" stroke="#3f6cc2" stroke-width="0.38"/>
<circle cx="298.42" cy="210.61" r="1.6" fill="none" stroke="#3f6cc2" stroke-width="0.38"/>
<circle cx="299.32" cy="210.56" r="1.6" fill="none" stroke="#3f6cc2" stroke-width="0.38"/>
<circle cx="300.22" cy="210.5" r="1.6" fill="none" stroke="#3f6cc2" stroke-width="0.38"/>
<circle cx="301.13" cy="210.44" r="1.6" fill="none" stroke="#3f6cc2" stroke-width="0.38"/>
<circle cx="302.03" cy="210.38" r="1.6" fill="none" stroke="#3f6cc2" stroke-width="0.38"/>
<circle cx="302.93" cy="210.32" r="1.6" fill="none" stroke="#3f6cc2" stroke-width="0.38"/>
<circle cx="303.83" cy="210.26" r="1.6" fill="none" stroke="#3f6cc2" stroke-width="0.38"/>
<circle cx="304.73" cy="210.2" r="1.6" fill="none" stroke="#3f6cc2" stroke-width="0.38"/>
<circle cx="305.64" cy="210.14" r="1.6" fill="none" stroke="#3f6cc2" stroke-width="0.38"/>
<circle cx="306.54" cy="210.08" r="1.6" fill="none" stroke="#3f6cc2" stroke-width="0.38"/>
<circle cx="307.44" cy="210.02" r="1.6" fill="none" stroke="#3f6cc2" stroke-width="0.38"/>
<circle cx="308.34" cy="209.96" r="1.6" fill="none" stroke="#3f6cc2" stroke-width="0.38"/>
<circle cx="309.25" cy="209.91" r="1.6" fill="none" stroke="#3f6cc2" stroke-width="0.38"/>
<circle cx="310.15" cy="209.85" r="1.6" fill="none" stroke="#3f6cc2" stroke-width="0.38"/>
<circle cx="311.05" cy="209.79" r="1.6" fill="none" stroke="#3f6cc2" stroke-width="0.38"/>
<circle cx="311.95" cy="209.73" r="1.6" fill="none" stroke="#3f6cc2" stroke-width="0.38"/>
<circle cx="312.85" cy="209.67" r="1.6" fill="none" stroke="#3f6cc2" stroke-width="0.38"/>
<circle cx="313.75" cy="209.61" r="1.6" fill="none" stroke="#3f6cc2" stroke-width="0.38"/>
<circle cx="314.66" cy="209.55" r="1.6" fill="none" stroke="#3f6cc2" stroke-width="0.38"/>
<circle cx="315.56" cy="209.49" r="1.6" fill="none" stroke="#3f6cc2" stroke-width="0.38"/>
<circle cx="316.46" cy="209.43" r="1.6" fill="none" stroke="#3f6cc2" stroke-width="0.38"/>
<circle cx="317.36" cy="209.37" r="1.6" fill="none" stroke="#3f6cc2" stroke-width="0.38"/>
<circle cx="318.26" cy="209.31" r="1.6" fill="none" stroke="#3f6cc2" stroke-width="0.38"/>
<circle cx="319.17" cy="209.26" r="1.6" fill="none" stroke="#3f6cc2" stroke-width="0.38"/>
<circle cx="320.07" cy="209.2" r="1.6" fill="none" stroke="#3f6cc2" stroke-width="0.38"/>
<circle cx="320.97" cy="209.14" r="1.6" fill="none" stroke="#3f6cc2" stroke-width="0.38"/>
<circle cx="321.87" cy="209.08" r="1.6" fill="none" stroke="#3f6cc2" stroke-width="0.38"/>
<circle cx="322.77" cy="209.04" r="1.6" fill="none" stroke="#3f6cc2" stroke-width="0.38"/>
<circle cx="323.68" cy="209.02" r="1.6" fill="none" stroke="#3f6cc2" stroke-width="0.38"/>
<circle cx="324.58" cy="209.01" r="1.6" fill="none" stroke="#3f6cc2" stroke-width="0.38"/>
<circle cx="325.48" cy="208.99" r="1.6" fill="none" stroke="#3f6cc2" stroke-width="0.38"/>
<circle cx="326.38" cy="208.97" r="1.6" fill="none" stroke="#3f6cc2" stroke-width="0.38"/>
<circle cx="327.28" cy="208.96" r="1.6" fill="none" stroke="#3f6cc2" stroke-width="0.38"/>
<circle cx="328.19" cy="208.94" r="1.6" fill="none" stroke="#3f6cc2" stroke-width="0.38"/>
<circle cx="329.09" cy="208.93" r="1.6" fill="none" stroke="#3f6cc2" stroke-width="0.38"/>
<circle cx="329.99" cy="208.91" r="1.6" fill="none" stroke="#3f6cc2" stroke-width="0.38"/>
<circle cx="330.89" cy="208.89" r="1.6" fill="none" stroke="#3f6cc2" stroke-width="0.38"/>
<circle cx="331.79" cy="208.88" r="1.6" fill="none" stroke="#3f6cc2" stroke-width="0.38"/>
<circle cx="332.7" cy="208.86" r="1.6" fill="none" stroke="#3f6cc2" stroke-width="0.38"/>
<circle cx="333.6" cy="208.84" r="1.6" fill="none" stroke="#3f6cc2" stroke-width="0.38"/>
<circle cx="334.5" cy="208.83" r="1.6" fill="none" stroke="#3f6cc2" stroke-width="0.38"/>
<circle cx="335.4" cy="208.81" r="1.6" fill="none" stroke="#3f6cc2" stroke-width="0.38"/>
<circle cx="336.3" cy="208.8" r="1.6" fill="none" stroke="#3f6cc2" stroke-width="0.38"/>
<circle cx="337.21" cy="208.78" r="1.6" fill="none" stroke="#3f6cc2" stroke-width="0.38"/>
<circle cx="338.11" cy="208.76" r="1.6" fill="none" stroke="#3f6cc2" stroke-width="0.38"/>
<circle cx="339.01" cy="208.75" r="1.6" fill="none" stroke="#3f6cc2" stroke-width="0.38"/>
<circle cx="339.91" cy="208.73" r="1.6" fill="none" stroke="#3f6cc2" stroke-width="0.38"/>
<circle cx="340.81" cy="208.71" r="1.6" fill="none" stroke="#3f6cc2" stroke-width="0.38"/>
<circle cx="341.72" cy="208.7" r="1.6" fill="none" stroke="#3f6cc2" stroke-width="0.38"/>
<circle cx="342.62" cy="208.68" r="1.6" fill="none" stroke="#3f6cc2" stroke-width="0.38"/>
<circle cx="343.52" cy="208.66" r="1.6" fill="none" stroke="#3f6cc2" stroke-width="0.38"/>
<circle cx="344.42" cy="208.65" r="1.6" fill="none" stroke="#3f6cc2" stroke-width="0.38"/>
<circle cx="345.32" cy="208.63" r="1.6" fill="none" stroke="#3f6cc2" stroke-width="0.38"/>
<circle cx="346.23" cy="208.62" r="1.6" fill="none" stroke="#3f6cc2" stroke-width="0.38"/>
<circle cx="347.13" cy="208.6" r="1.6" fill="none" stroke="#3f6cc2" stroke-width="0.38"/>
<circle cx="348.03" cy="208.58" r="1.6" fill="none" stroke="#3f6cc2" stroke-width="0.38"/>
<circle cx="348.93" cy="208.57" r="1.6" fill="none" stroke="#3f6cc2" stroke-width="0.38"/>
<circle cx="349.83" cy="208.55" r="1.6" fill="none" stroke="#3f6cc2" stroke-width="0.38"/>
<circle cx="350.74" cy="208.53" r="1.6" fill="none" stroke="#3f6cc2" stroke-width="0.38"/>
<circle cx="351.64" cy="208.52" r="1.6" fill="none" stroke="#3f6cc2" stroke-width="0.38"/>
<circle cx="352.54" cy="208.5" r="1.6" fill="none" stroke="#3f6cc2" stroke-width="0.38"/>
<circle cx="353.44" cy="208.49" r="1.6" fill="none" stroke="#3f6cc2" stroke-width="0.38"/>
<circle cx="354.34" cy="208.47" r="1.6" fill="none" stroke="#3f6cc2" stroke-width="0.38"/>
<circle cx="355.25" cy="208.45" r="1.6" fill="none" stroke="#3f6cc2" stroke-width="0.38"/>
<circle cx="356.15" cy="208.44" r="1.6" fill="none" stroke="#3f6cc2" stroke-width="0.38"/>
<circle cx="357.05" cy="208.42" r="1.6" fill="none" stroke="#3f6cc2" stroke-width="0.38"/>
<circle cx="357.95" cy="208.42" r="1.6" fill="none" stroke="#3f6cc2" stroke-width="0.38"/>
<circle cx="358.85" cy="208.41" r="1.6" fill="none" stroke="#3f6cc2" stroke-width="0.38"/>
<circle cx="359.76" cy="208.4" r="1.6" fill="none" stroke="#3f6cc2" stroke-width="0.38"/>
<circle cx="360.66" cy="208.39" r="1.6" fill="none" stroke="#3f6cc2" stroke-width="0.38"/>
<circle cx="361.56" cy="208.38" r="1.6" fill="none" stroke="#3f6cc2" stroke-width="0.38"/>
<circle cx="362.46" cy="208.37" r="1.6" fill="none" stroke="#3f6cc2" stroke-width="0.38"/>
<circle cx="363.37" cy="208.37" r="1.6" fill="none" stroke="#3f6cc2" stroke-width="0.38"/>
<circle cx="364.27" cy="208.36" r="1.6" fill="none" stroke="#3f6cc2" stroke-width="0.38"/>
<circle cx="365.17" cy="208.35" r="1.6" fill="none" stroke="#3f6cc2" stroke-width="0.38"/>
<circle cx="366.07" cy="208.34" r="1.6" fill="none" stroke="#3f6cc2" stroke-width="0.38"/>
<circle cx="366.97" cy="208.33" r="1.6" fill="none" stroke="#3f6cc2" stroke-width="0.38"/>
<circle cx="367.88" cy="208.32" r="1.6" fill="none" stroke="#3f6cc2" stroke-width="0.38"/>
<circle cx="368.78" cy="208.32" r="1.6" fill="none" stroke="#3f6cc2" stroke-width="0.38"/>
<circle cx="369.68" cy="208.31" r="1.6" fill="none" stroke="#3f6cc2" stroke-width="0.38"/>
<circle cx="370.58" cy="208.3" r="1.6" fill="none" stroke="#3f6cc2" stroke-width="0.38"/>
<circle cx="371.48" cy="208.29" r="1.6" fill="none" stroke="#3f6cc2" stroke-width="0.38"/>
<circle cx="372.38" cy="208.28" r="1.6" fill="none" stroke="#3f6cc2" stroke-width="0.38"/>
<circle cx="373.29" cy="208.27" r="1.6" fill="none" stroke="#3f6cc2" stroke-width="0.38"/>
<circle cx="374.19" cy="208.27" r="1.6" fill="none" stroke="#3f6cc2" stroke-width="0.38"/>
<circle cx="375.09" cy="208.26" r="1.6" fill="none" stroke="#3f6cc2" stroke-width="0.38"/>
<circle cx="375.99" cy="208.25" r="1.6" fill="none" stroke="#3f6cc2" stroke-width="0.38"/>
<circle cx="376.89" cy="208.24" r="1.6" fill="none" stroke="#3f6cc2" stroke-width="0.38"/>
<circle cx="377.8" cy="208.23" r="1.6" fill="none" stroke="#3f6cc2" stroke-width="0.38"/>
<circle cx="378.7" cy="208.23" r="1.6" fill="none" stroke="#3f6cc2" stroke-width="0.38"/>
<circle cx="379.6" cy="208.22" r="1.6" fill="none" stroke="#3f6cc2" stroke-width="0.38"/>
<circle cx="380.5" cy="208.21" r="1.6" fill="none" stroke="#3f6cc2" stroke-width="0.38"/>
<circle cx="381.4" cy="208.2" r="1.6" fill="none" stroke="#3f6cc2" stroke-width="0.38"/>
<circle cx="382.31" cy="208.19" r="1.6" fill="none" stroke="#3f6cc2" stroke-width="0.38"/>
<circle cx="383.21" cy="208.18" r="1.6" fill="none" stroke="#3f6cc2" stroke-width="0.38"/>
<circle cx="384.11" cy="208.18" r="1.6" fill="none" stroke="#3f6cc2" stroke-width="0.38"/>
<circle cx="385.01" cy="208.17" r="1.6" fill="none" stroke="#3f6cc2" stroke-width="0.38"/>
<circle cx="385.91" cy="208.16" r="1.6" fill="none" stroke="#3f6cc2" stroke-width="0.38"/>
<circle cx="386.82" cy="208.15" r="1.6" fill="none" stroke="#3f6cc2" stroke-width="0.38"/>
<circle cx="387.72" cy="208.14" r="1.6" fill="none" stroke="#3f6cc2" stroke-width="0.38"/>
<circle cx="388.62" cy="208.13" r="1.6" fill="none" stroke="#3f6cc2" stroke-width="0.38"/>
<circle cx="389.52" cy="208.13" r="1.6" fill="none" stroke="#3f6cc2" stroke-width="0.38"/>
<circle cx="390.42" cy="208.12" r="1.6" fill="none" stroke="#3f6cc2" stroke-width="0.38"/>
<circle cx="391.33" cy="208.11" r="1.6" fill="none" stroke="#3f6cc2" stroke-width="0.38"/>
<circle cx="392.23" cy="208.1" r="1.6" fill="none" stroke="#3f6cc2" stroke-width="0.38"/>
<circle cx="393.13" cy="208.09" r="1.6" fill="none" stroke="#3f6cc2" stroke-width="0.38"/>
<circle cx="394.03" cy="208.08" r="1.6" fill="none" stroke="#3f6cc2" stroke-width="0.38"/>
<circle cx="394.93" cy="208.08" r="1.6" fill="none" stroke="#3f6cc2" stroke-width="0.38"/>
<circle cx="395.84" cy="208.07" r="1.6" fill="none" stroke="#3f6cc2" stroke-width="0.38"/>
<circle cx="396.74" cy="208.06" r="1.6" fill="none" stroke="#3f6cc2" stroke-width="0.38"/>
<circle cx="397.64" cy="208.05" r="1.6" fill="none" stroke="#3f6cc2" stroke-width="0.38"/>
<circle cx="398.54" cy="208.04" r="1.6" fill="none" stroke="#3f6cc2" stroke-width="0.38"/>
<circle cx="399.44" cy="208.04" r="1.6" fill="none" stroke="#3f6cc2" stroke-width="0.38"/>
<circle cx="400.35" cy="208.03" r="1.6" fill="none" stroke="#3f6cc2" stroke-width="0.38"/>
<circle cx="401.25" cy="208.02" r="1.6" fill="none" stroke="#3f6cc2" stroke-width="0.38"/>
<circle cx="402.15" cy="208.01" r="1.6" fill="none" stroke="#3f6cc2" stroke-width="0.38"/>
<circle cx="403.05" cy="208" r="1.6" fill="none" stroke="#3f6cc2" stroke-width="0.38"/>
<circle cx="403.95" cy="207.99" r="1.6" fill="none" stroke="#3f6cc2" stroke-width="0.38"/>
<circle cx="404.86" cy="207.99" r="1.6" fill="none" stroke="#3f6cc2" stroke-width="0.38"/>
<circle cx="405.76" cy="207.98" r="1.6" fill="none" stroke="#3f6cc2" stroke-width="0.38"/>
<circle cx="406.66" cy="207.97" r="1.6" fill="none" stroke="#3f6cc2" stroke-width="0.38"/>
<circle cx="407.56" cy="207.96" r="1.6" fill="none" stroke="#3f6cc2" stroke-width="0.38"/>
<circle cx="408.46" cy="207.95" r="1.6" fill="none" stroke="#3f6cc2" stroke-width="0.38"/>
<circle cx="409.37" cy="207.94" r="1.6" fill="none" stroke="#3f6cc2" stroke-width="0.38"/>
<circle cx="410.27" cy="207.94" r="1.6" fill="none" stroke="#3f6cc2" stroke-width="0.38"/>
<circle cx="411.17" cy="207.93" r="1.6" fill="none" stroke="#3f6cc2" stroke-width="0.38"/>
<circle cx="412.07" cy="207.92" r="1.6" fill="none" stroke="#3f6cc2" stroke-width="0.38"/>
<circle cx="412.98" cy="207.91" r="1.6" fill="none" stroke="#3f6cc2" stroke-width="0.38"/>
<circle cx="413.88" cy="207.9" r="1.6" fill="none" stroke="#3f6cc2" stroke-width="0.38"/>
<circle cx="414.78" cy="207.89" r="1.6" fill="none" stroke="#3f6cc2" stroke-width="0.38"/>
<circle cx="415.68" cy="207.89" r="1.6" fill="none" stroke="#3f6cc2" stroke-width="0.38"/>
<circle cx="416.58" cy="207.88" r="1.6" fill="none" stroke="#3f6cc2" stroke-width="0.38"/>
<circle cx="417.49" cy="207.87" r="1.6" fill="none" stroke="#3f6cc2" stroke-width="0.38"/>
<circle cx="418.39" cy="207.86" r="1.6" fill="none" stroke="#3f6cc2" stroke-width="0.38"/>
<circle cx="419.29" cy="207.85" r="1.6" fill="none" stroke="#3f6cc2" stroke-width="0.38"/>
<circle cx="420.19" cy="207.84" r="1.6" fill="none" stroke="#3f6cc2" stroke-width="0.38"/>
<circle cx="421.09" cy="207.84" r="1.6" fill="none" stroke="#3f6cc2" stroke-width="0.38"/>
<circle cx="422" cy="207.83" r="1.6" fill="none" stroke="#3f6cc2" stroke-width="0.38"/>
<circle cx="422.9" cy="207.82" r="1.6" fill="none" stroke="#3f6cc2" stroke-width="0.38"/>
<circle cx="423.8" cy="207.81" r="1.6" fill="none" stroke="#3f6cc2" stroke-width="0.38"/>
<circle cx="424.7" cy="207.8" r="1.6" fill="none" stroke="#3f6cc2" stroke-width="0.38"/>
<circle cx="425.6" cy="207.8" r="1.6" fill="none" stroke="#3f6cc2" stroke-width="0.38"/>
<circle cx="426.5" cy="207.79" r="1.6" fill="none" stroke="#3f6cc2" stroke-width="0.38"/>
<circle cx="427.41" cy="207.78" r="1.6" fill="none" stroke="#3f6cc2" stroke-width="0.38"/>
<circle cx="428.31" cy="207.77" r="1.6" fill="none" stroke="#3f6cc2" stroke-width="0.38"/>
<circle cx="429.21" cy="207.76" r="1.6" fill="none" stroke="#3f6cc2" stroke-width="0.38"/>
<circle cx="430.11" cy="207.75" r="1.6" fill="none" stroke="#3f6cc2" stroke-width="0.38"/>
<circle cx="431.01" cy="207.75" r="1.6" fill="none" stroke="#3f6cc2" stroke-width="0.38"/>
<circle cx="431.92" cy="207.74" r="1.6" fill="none" stroke="#3f6cc2" stroke-width="0.38"/>
<circle cx="432.82" cy="207.73" r="1.6" fill="none" stroke="#3f6cc2" stroke-width="0.38"/>
<circle cx="433.72" cy="207.72" r="1.6" fill="none" stroke="#3f6cc2" stroke-width="0.38"/>
<circle cx="434.62" cy="207.71" r="1.6" fill="none" stroke="#3f6cc2" stroke-width="0.38"/>
<circle cx="435.52" cy="207.7" r="1.6" fill="none" stroke="#3f6cc2" stroke-width="0.38"/>
<circle cx="436.43" cy="207.7" r="1.6" fill="none" stroke="#3f6cc2" stroke-width="0.38"/>
<circle cx="437.33" cy="207.69" r="1.6" fill="none" stroke="#3f6cc2" stroke-width="0.38"/>
<circle cx="438.23" cy="207.68" r="1.6" fill="none" stroke="#3f6cc2" stroke-width="0.38"/>
<circle cx="439.13" cy="207.67" r="1.6" fill="none" stroke="#3f6cc2" stroke-width="0.38"/>
<circle cx="440.03" cy="207.66" r="1.6" fill="none" stroke="#3f6cc2" stroke-width="0.38"/>
<circle cx="440.94" cy="207.65" r="1.6" fill="none" stroke="#3f6cc2" stroke-width="0.38"/>
<circle cx="441.84" cy="207.65" r="1.6" fill="none" stroke="#3f6cc2" stroke-width="0.38"/>
<circle cx="442.74" cy="207.64" r="1.6" fill="none" stroke="#3f6cc2" stroke-width="0.38"/>
<circle cx="443.64" cy="207.63" r="1.6" fill="none" stroke="#3f6cc2" stroke-width="0.38"/>
<circle cx="444.54" cy="207.62" r="1.6" fill="none" stroke="#3f6cc2" stroke-width="0.38"/>
<circle cx="445.45" cy="207.61" r="1.6" fill="none" stroke="#3f6cc2" stroke-width="0.38"/>
<circle cx="446.35" cy="207.6" r="1.6" fill="none" stroke="#3f6cc2" stroke-width="0.38"/>
<circle cx="267.3" cy="271.09" r="1.6" fill="none" stroke="#666" stroke-width="0.34"/>
<circle cx="268.02" cy="283.7" r="1.6" fill="none" stroke="#666" stroke-width="0.34"/>
<circle cx="268.84" cy="297.56" r="1.6" fill="none" stroke="#666" stroke-width="0.34"/>
<circle cx="270.1" cy="307.9" r="1.6" fill="none" stroke="#666" stroke-width="0.34"/>
<circle cx="271.27" cy="309.76" r="1.6" fill="none" stroke="#666" stroke-width="0.34"/>
<circle cx="272.08" cy="314.93" r="1.6" fill="none" stroke="#666" stroke-width="0.34"/>
<circle cx="272.89" cy="316.48" r="1.6" fill="none" stroke="#666" stroke-width="0.34"/>
<circle cx="273.71" cy="318.03" r="1.6" fill="none" stroke="#666" stroke-width="0.34"/>
<circle cx="274.52" cy="318.84" r="1.6" fill="none" stroke="#666" stroke-width="0.34"/>
<circle cx="275.33" cy="319.64" r="1.6" fill="none" stroke="#666" stroke-width="0.34"/>
<circle cx="276.14" cy="320.45" r="1.6" fill="none" stroke="#666" stroke-width="0.34"/>
<circle cx="277.04" cy="321.34" r="1.6" fill="none" stroke="#666" stroke-width="0.34"/>
<circle cx="277.95" cy="321.72" r="1.6" fill="none" stroke="#666" stroke-width="0.34"/>
<circle cx="278.85" cy="322.11" r="1.6" fill="none" stroke="#666" stroke-width="0.34"/>
<circle cx="279.75" cy="322.49" r="1.6" fill="none" stroke="#666" stroke-width="0.34"/>
<circle cx="280.65" cy="322.88" r="1.6" fill="none" stroke="#666" stroke-width="0.34"/>
<circle cx="281.55" cy="323.26" r="1.6" fill="none" stroke="#666" stroke-width="0.34"/>
<circle cx="282.46" cy="323.65" r="1.6" fill="none" stroke="#666" stroke-width="0.34"/>
<circle cx="283.36" cy="324.03" r="1.6" fill="none" stroke="#666" stroke-width="0.34"/>
<circle cx="284.26" cy="324.21" r="1.6" fill="none" stroke="#666" stroke-width="0.34"/>
<circle cx="285.16" cy="324.39" r="1.6" fill="none" stroke="#666" stroke-width="0.34"/>
<circle cx="286.06" cy="324.57" r="1.6" fill="none" stroke="#666" stroke-width="0.34"/>
<circle cx="286.97" cy="324.74" r="1.6" fill="none" stroke="#666" stroke-width="0.34"/>
<circle cx="287.87" cy="324.92" r="1.6" fill="none" stroke="#666" stroke-width="0.34"/>
<circle cx="288.77" cy="325.1" r="1.6" fill="none" stroke="#666" stroke-width="0.34"/>
<circle cx="289.67" cy="325.28" r="1.6" fill="none" stroke="#666" stroke-width="0.34"/>
<circle cx="290.57" cy="325.46" r="1.6" fill="none" stroke="#666" stroke-width="0.34"/>
<circle cx="291.48" cy="325.64" r="1.6" fill="none" stroke="#666" stroke-width="0.34"/>
<circle cx="292.38" cy="325.82" r="1.6" fill="none" stroke="#666" stroke-width="0.34"/>
<circle cx="293.28" cy="326" r="1.6" fill="none" stroke="#666" stroke-width="0.34"/>
<circle cx="294.18" cy="326.17" r="1.6" fill="none" stroke="#666" stroke-width="0.34"/>
<circle cx="295.08" cy="326.35" r="1.6" fill="none" stroke="#666" stroke-width="0.34"/>
<circle cx="295.99" cy="326.53" r="1.6" fill="none" stroke="#666" stroke-width="0.34"/>
<circle cx="296.89" cy="326.71" r="1.6" fill="none" stroke="#666" stroke-width="0.34"/>
<circle cx="297.79" cy="326.89" r="1.6" fill="none" stroke="#666" stroke-width="0.34"/>
<circle cx="298.69" cy="326.95" r="1.6" fill="none" stroke="#666" stroke-width="0.34"/>
<circle cx="299.59" cy="326.98" r="1.6" fill="none" stroke="#666" stroke-width="0.34"/>
<circle cx="300.5" cy="327.01" r="1.6" fill="none" stroke="#666" stroke-width="0.34"/>
<circle cx="301.4" cy="327.04" r="1.6" fill="none" stroke="#666" stroke-width="0.34"/>
<circle cx="302.3" cy="327.07" r="1.6" fill="none" stroke="#666" stroke-width="0.34"/>
<circle cx="303.2" cy="327.1" r="1.6" fill="none" stroke="#666" stroke-width="0.34"/>
<circle cx="304.1" cy="327.13" r="1.6" fill="none" stroke="#666" stroke-width="0.34"/>
<circle cx="305.01" cy="327.16" r="1.6" fill="none" stroke="#666" stroke-width="0.34"/>
<circle cx="305.91" cy="327.19" r="1.6" fill="none" stroke="#666" stroke-width="0.34"/>
<circle cx="306.81" cy="327.22" r="1.6" fill="none" stroke="#666" stroke-width="0.34"/>
<circle cx="307.71" cy="327.26" r="1.6" fill="none" stroke="#666" stroke-width="0.34"/>
<circle cx="308.61" cy="327.29" r="1.6" fill="none" stroke="#666" stroke-width="0.34"/>
<circle cx="309.52" cy="327.32" r="1.6" fill="none" stroke="#666" stroke-width="0.34"/>
<circle cx="310.42" cy="327.35" r="1.6" fill="none" stroke="#666" stroke-width="0.34"/>
<circle cx="311.32" cy="327.38" r="1.6" fill="none" stroke="#666" stroke-width="0.34"/>
<circle cx="312.22" cy="327.41" r="1.6" fill="none" stroke="#666" stroke-width="0.34"/>
<circle cx="313.12" cy="327.44" r="1.6" fill="none" stroke="#666" stroke-width="0.34"/>
<circle cx="314.03" cy="327.47" r="1.6" fill="none" stroke="#666" stroke-width="0.34"/>
<circle cx="314.93" cy="327.5" r="1.6" fill="none" stroke="#666" stroke-width="0.34"/>
<circle cx="315.83" cy="327.53" r="1.6" fill="none" stroke="#666" stroke-width="0.34"/>
<circle cx="316.73" cy="327.56" r="1.6" fill="none" stroke="#666" stroke-width="0.34"/>
<circle cx="317.63" cy="327.59" r="1.6" fill="none" stroke="#666" stroke-width="0.34"/>
<circle cx="318.54" cy="327.62" r="1.6" fill="none" stroke="#666" stroke-width="0.34"/>
<circle cx="319.44" cy="327.65" r="1.6" fill="none" stroke="#666" stroke-width="0.34"/>
<circle cx="320.34" cy="327.68" r="1.6" fill="none" stroke="#666" stroke-width="0.34"/>
<circle cx="321.24" cy="327.71" r="1.6" fill="none" stroke="#666" stroke-width="0.34"/>
<circle cx="322.14" cy="327.75" r="1.6" fill="none" stroke="#666" stroke-width="0.34"/>
<circle cx="323.05" cy="327.77" r="1.6" fill="none" stroke="#666" stroke-width="0.34"/>
<circle cx="323.95" cy="327.79" r="1.6" fill="none" stroke="#666" stroke-width="0.34"/>
<circle cx="324.85" cy="327.81" r="1.6" fill="none" stroke="#666" stroke-width="0.34"/>
<circle cx="325.75" cy="327.83" r="1.6" fill="none" stroke="#666" stroke-width="0.34"/>
<circle cx="326.65" cy="327.86" r="1.6" fill="none" stroke="#666" stroke-width="0.34"/>
<circle cx="327.56" cy="327.88" r="1.6" fill="none" stroke="#666" stroke-width="0.34"/>
<circle cx="328.46" cy="327.9" r="1.6" fill="none" stroke="#666" stroke-width="0.34"/>
<circle cx="329.36" cy="327.92" r="1.6" fill="none" stroke="#666" stroke-width="0.34"/>
<circle cx="330.26" cy="327.94" r="1.6" fill="none" stroke="#666" stroke-width="0.34"/>
<circle cx="331.16" cy="327.96" r="1.6" fill="none" stroke="#666" stroke-width="0.34"/>
<circle cx="332.07" cy="327.99" r="1.6" fill="none" stroke="#666" stroke-width="0.34"/>
<circle cx="332.97" cy="328.01" r="1.6" fill="none" stroke="#666" stroke-width="0.34"/>
<circle cx="333.87" cy="328.03" r="1.6" fill="none" stroke="#666" stroke-width="0.34"/>
<circle cx="334.77" cy="328.05" r="1.6" fill="none" stroke="#666" stroke-width="0.34"/>
<circle cx="335.67" cy="328.07" r="1.6" fill="none" stroke="#666" stroke-width="0.34"/>
<circle cx="336.58" cy="328.1" r="1.6" fill="none" stroke="#666" stroke-width="0.34"/>
<circle cx="337.48" cy="328.12" r="1.6" fill="none" stroke="#666" stroke-width="0.34"/>
<circle cx="338.38" cy="328.14" r="1.6" fill="none" stroke="#666" stroke-width="0.34"/>
<circle cx="339.28" cy="328.16" r="1.6" fill="none" stroke="#666" stroke-width="0.34"/>
<circle cx="340.18" cy="328.18" r="1.6" fill="none" stroke="#666" stroke-width="0.34"/>
<circle cx="341.09" cy="328.2" r="1.6" fill="none" stroke="#666" stroke-width="0.34"/>
<circle cx="341.99" cy="328.23" r="1.6" fill="none" stroke="#666" stroke-width="0.34"/>
<circle cx="342.89" cy="328.25" r="1.6" fill="none" stroke="#666" stroke-width="0.34"/>
<circle cx="343.79" cy="328.27" r="1.6" fill="none" stroke="#666" stroke-width="0.34"/>
<circle cx="344.69" cy="328.29" r="1.6" fill="none" stroke="#666" stroke-width="0.34"/>
<circle cx="345.6" cy="328.31" r="1.6" fill="none" stroke="#666" stroke-width="0.34"/>
<circle cx="346.5" cy="328.33" r="1.6" fill="none" stroke="#666" stroke-width="0.34"/>
<circle cx="347.4" cy="328.36" r="1.6" fill="none" stroke="#666" stroke-width="0.34"/>
<circle cx="348.3" cy="328.38" r="1.6" fill="none" stroke="#666" stroke-width="0.34"/>
<circle cx="349.2" cy="328.4" r="1.6" fill="none" stroke="#666" stroke-width="0.34"/>
<circle cx="350.11" cy="328.42" r="1.6" fill="none" stroke="#666" stroke-width="0.34"/>
<circle cx="351.01" cy="328.44" r="1.6" fill="none" stroke="#666" stroke-width="0.34"/>
<circle cx="351.91" cy="328.47" r="1.6" fill="none" stroke="#666" stroke-width="0.34"/>
<circle cx="352.81" cy="328.49" r="1.6" fill="none" stroke="#666" stroke-width="0.34"/>
<circle cx="353.71" cy="328.51" r="1.6" fill="none" stroke="#666" stroke-width="0.34"/>
<circle cx="354.62" cy="328.53" r="1.6" fill="none" stroke="#666" stroke-width="0.34"/>
<circle cx="355.52" cy="328.55" r="1.6" fill="none" stroke="#666" stroke-width="0.34"/>
<circle cx="356.42" cy="328.57" r="1.6" fill="none" stroke="#666" stroke-width="0.34"/>
<circle cx="357.32" cy="328.59" r="1.6" fill="none" stroke="#666" stroke-width="0.34"/>
<circle cx="358.22" cy="328.6" r="1.6" fill="none" stroke="#666" stroke-width="0.34"/>
<circle cx="359.13" cy="328.61" r="1.6" fill="none" stroke="#666" stroke-width="0.34"/>
<circle cx="360.03" cy="328.63" r="1.6" fill="none" stroke="#666" stroke-width="0.34"/>
<circle cx="360.93" cy="328.64" r="1.6" fill="none" stroke="#666" stroke-width="0.34"/>
<circle cx="361.83" cy="328.65" r="1.6" fill="none" stroke="#666" stroke-width="0.34"/>
<circle cx="362.73" cy="328.66" r="1.6" fill="none" stroke="#666" stroke-width="0.34"/>
<circle cx="363.64" cy="328.68" r="1.6" fill="none" stroke="#666" stroke-width="0.34"/>
<circle cx="364.54" cy="328.69" r="1.6" fill="none" stroke="#666" stroke-width="0.34"/>
<circle cx="365.44" cy="328.7" r="1.6" fill="none" stroke="#666" stroke-width="0.34"/>
<circle cx="366.34" cy="328.71" r="1.6" fill="none" stroke="#666" stroke-width="0.34"/>
<circle cx="367.24" cy="328.73" r="1.6" fill="none" stroke="#666" stroke-width="0.34"/>
<circle cx="368.15" cy="328.74" r="1.6" fill="none" stroke="#666" stroke-width="0.34"/>
<circle cx="369.05" cy="328.75" r="1.6" fill="none" stroke="#666" stroke-width="0.34"/>
<circle cx="369.95" cy="328.76" r="1.6" fill="none" stroke="#666" stroke-width="0.34"/>
<circle cx="370.85" cy="328.77" r="1.6" fill="none" stroke="#666" stroke-width="0.34"/>
<circle cx="371.75" cy="328.79" r="1.6" fill="none" stroke="#666" stroke-width="0.34"/>
<circle cx="372.66" cy="328.8" r="1.6" fill="none" stroke="#666" stroke-width="0.34"/>
<circle cx="373.56" cy="328.81" r="1.6" fill="none" stroke="#666" stroke-width="0.34"/>
<circle cx="374.46" cy="328.82" r="1.6" fill="none" stroke="#666" stroke-width="0.34"/>
<circle cx="375.36" cy="328.84" r="1.6" fill="none" stroke="#666" stroke-width="0.34"/>
<circle cx="376.26" cy="328.85" r="1.6" fill="none" stroke="#666" stroke-width="0.34"/>
<circle cx="377.17" cy="328.86" r="1.6" fill="none" stroke="#666" stroke-width="0.34"/>
<circle cx="378.07" cy="328.87" r="1.6" fill="none" stroke="#666" stroke-width="0.34"/>
<circle cx="378.97" cy="328.89" r="1.6" fill="none" stroke="#666" stroke-width="0.34"/>
<circle cx="379.87" cy="328.9" r="1.6" fill="none" stroke="#666" stroke-width="0.34"/>
<circle cx="380.77" cy="328.91" r="1.6" fill="none" stroke="#666" stroke-width="0.34"/>
<circle cx="381.68" cy="328.92" r="1.6" fill="none" stroke="#666" stroke-width="0.34"/>
<circle cx="382.58" cy="328.94" r="1.6" fill="none" stroke="#666" stroke-width="0.34"/>
<circle cx="383.48" cy="328.95" r="1.6" fill="none" stroke="#666" stroke-width="0.34"/>
<circle cx="384.38" cy="328.96" r="1.6" fill="none" stroke="#666" stroke-width="0.34"/>
<circle cx="385.28" cy="328.97" r="1.6" fill="none" stroke="#666" stroke-width="0.34"/>
<circle cx="386.19" cy="328.99" r="1.6" fill="none" stroke="#666" stroke-width="0.34"/>
<circle cx="387.09" cy="329" r="1.6" fill="none" stroke="#666" stroke-width="0.34"/>
<circle cx="387.99" cy="329.01" r="1.6" fill="none" stroke="#666" stroke-width="0.34"/>
<circle cx="388.89" cy="329.02" r="1.6" fill="none" stroke="#666" stroke-width="0.34"/>
<circle cx="389.79" cy="329.04" r="1.6" fill="none" stroke="#666" stroke-width="0.34"/>
<circle cx="390.7" cy="329.05" r="1.6" fill="none" stroke="#666" stroke-width="0.34"/>
<circle cx="391.6" cy="329.06" r="1.6" fill="none" stroke="#666" stroke-width="0.34"/>
<circle cx="392.5" cy="329.07" r="1.6" fill="none" stroke="#666" stroke-width="0.34"/>
<circle cx="393.4" cy="329.09" r="1.6" fill="none" stroke="#666" stroke-width="0.34"/>
<circle cx="394.3" cy="329.1" r="1.6" fill="none" stroke="#666" stroke-width="0.34"/>
<circle cx="395.21" cy="329.11" r="1.6" fill="none" stroke="#666" stroke-width="0.34"/>
<circle cx="396.11" cy="329.12" r="1.6" fill="none" stroke="#666" stroke-width="0.34"/>
<circle cx="397.01" cy="329.13" r="1.6" fill="none" stroke="#666" stroke-width="0.34"/>
<circle cx="397.91" cy="329.15" r="1.6" fill="none" stroke="#666" stroke-width="0.34"/>
<circle cx="398.81" cy="329.16" r="1.6" fill="none" stroke="#666" stroke-width="0.34"/>
<circle cx="399.72" cy="329.17" r="1.6" fill="none" stroke="#666" stroke-width="0.34"/>
<circle cx="400.62" cy="329.18" r="1.6" fill="none" stroke="#666" stroke-width="0.34"/>
<circle cx="401.52" cy="329.2" r="1.6" fill="none" stroke="#666" stroke-width="0.34"/>
<circle cx="402.42" cy="329.21" r="1.6" fill="none" stroke="#666" stroke-width="0.34"/>
<circle cx="403.32" cy="329.22" r="1.6" fill="none" stroke="#666" stroke-width="0.34"/>
<circle cx="404.23" cy="329.23" r="1.6" fill="none" stroke="#666" stroke-width="0.34"/>
<circle cx="405.13" cy="329.25" r="1.6" fill="none" stroke="#666" stroke-width="0.34"/>
<circle cx="406.03" cy="329.26" r="1.6" fill="none" stroke="#666" stroke-width="0.34"/>
<circle cx="406.93" cy="329.27" r="1.6" fill="none" stroke="#666" stroke-width="0.34"/>
<circle cx="407.83" cy="329.28" r="1.6" fill="none" stroke="#666" stroke-width="0.34"/>
<circle cx="408.74" cy="329.3" r="1.6" fill="none" stroke="#666" stroke-width="0.34"/>
<circle cx="409.64" cy="329.31" r="1.6" fill="none" stroke="#666" stroke-width="0.34"/>
<circle cx="410.54" cy="329.32" r="1.6" fill="none" stroke="#666" stroke-width="0.34"/>
<circle cx="411.44" cy="329.33" r="1.6" fill="none" stroke="#666" stroke-width="0.34"/>
<circle cx="412.34" cy="329.35" r="1.6" fill="none" stroke="#666" stroke-width="0.34"/>
<circle cx="413.25" cy="329.36" r="1.6" fill="none" stroke="#666" stroke-width="0.34"/>
<circle cx="414.15" cy="329.37" r="1.6" fill="none" stroke="#666" stroke-width="0.34"/>
<circle cx="415.05" cy="329.38" r="1.6" fill="none" stroke="#666" stroke-width="0.34"/>
<circle cx="415.95" cy="329.4" r="1.6" fill="none" stroke="#666" stroke-width="0.34"/>
<circle cx="416.85" cy="329.41" r="1.6" fill="none" stroke="#666" stroke-width="0.34"/>
<circle cx="417.76" cy="329.42" r="1.6" fill="none" stroke="#666" stroke-width="0.34"/>
<circle cx="418.66" cy="329.43" r="1.6" fill="none" stroke="#666" stroke-width="0.34"/>
<circle cx="419.56" cy="329.44" r="1.6" fill="none" stroke="#666" stroke-width="0.34"/>
<circle cx="420.46" cy="329.46" r="1.6" fill="none" stroke="#666" stroke-width="0.34"/>
<circle cx="421.36" cy="329.47" r="1.6" fill="none" stroke="#666" stroke-width="0.34"/>
<circle cx="422.27" cy="329.48" r="1.6" fill="none" stroke="#666" stroke-width="0.34"/>
<circle cx="423.17" cy="329.49" r="1.6" fill="none" stroke="#666" stroke-width="0.34"/>
<circle cx="424.07" cy="329.51" r="1.6" fill="none" stroke="#666" stroke-width="0.34"/>
<circle cx="424.97" cy="329.52" r="1.6" fill="none" stroke="#666" stroke-width="0.34"/>
<circle cx="425.87" cy="329.53" r="1.6" fill="none" stroke="#666" stroke-width="0.34"/>
<circle cx="426.78" cy="329.54" r="1.6" fill="none" stroke="#666" stroke-width="0.34"/>
<circle cx="427.68" cy="329.56" r="1.6" fill="none" stroke="#666" stroke-width="0.34"/>
<circle cx="428.58" cy="329.57" r="1.6" fill="none" stroke="#666" stroke-width="0.34"/>
<circle cx="429.48" cy="329.58" r="1.6" fill="none" stroke="#666" stroke-width="0.34"/>
<circle cx="430.38" cy="329.59" r="1.6" fill="none" stroke="#666" stroke-width="0.34"/>
<circle cx="431.29" cy="329.61" r="1.6" fill="none" stroke="#666" stroke-width="0.34"/>
<circle cx="432.19" cy="329.62" r="1.6" fill="none" stroke="#666" stroke-width="0.34"/>
<circle cx="433.09" cy="329.63" r="1.6" fill="none" stroke="#666" stroke-width="0.34"/>
<circle cx="433.99" cy="329.64" r="1.6" fill="none" stroke="#666" stroke-width="0.34"/>
<circle cx="434.89" cy="329.66" r="1.6" fill="none" stroke="#666" stroke-width="0.34"/>
<circle cx="435.8" cy="329.67" r="1.6" fill="none" stroke="#666" stroke-width="0.34"/>
<circle cx="436.7" cy="329.68" r="1.6" fill="none" stroke="#666" stroke-width="0.34"/>
<circle cx="437.6" cy="329.69" r="1.6" fill="none" stroke="#666" stroke-width="0.34"/>
<circle cx="438.5" cy="329.71" r="1.6" fill="none" stroke="#666" stroke-width="0.34"/>
<circle cx="439.4" cy="329.72" r="1.6" fill="none" stroke="#666" stroke-width="0.34"/>
<circle cx="440.31" cy="329.73" r="1.6" fill="none" stroke="#666" stroke-width="0.34"/>
<circle cx="441.21" cy="329.74" r="1.6" fill="none" stroke="#666" stroke-width="0.34"/>
<circle cx="442.11" cy="329.76" r="1.6" fill="none" stroke="#666" stroke-width="0.34"/>
<circle cx="443.01" cy="329.77" r="1.6" fill="none" stroke="#666" stroke-width="0.34"/>
<circle cx="443.91" cy="329.78" r="1.6" fill="none" stroke="#666" stroke-width="0.34"/>
<circle cx="444.82" cy="329.79" r="1.6" fill="none" stroke="#666" stroke-width="0.34"/>
<circle cx="445.72" cy="329.8" r="1.6" fill="none" stroke="#666" stroke-width="0.34"/>
<rect x="266.4" y="196.5" width="180.4" height="144.4" fill="none" stroke="#666" stroke-width="1"/>
<line x1="266.4" y1="330.44" x2="268.9" y2="330.44" stroke="#666" stroke-width="1"/>
<line x1="266.4" y1="309.76" x2="268.9" y2="309.76" stroke="#666" stroke-width="1"/>
<line x1="266.4" y1="289.08" x2="268.9" y2="289.08" stroke="#666" stroke-width="1"/>
<line x1="266.4" y1="268.4" x2="268.9" y2="268.4" stroke="#666" stroke-width="1"/>
<line x1="266.4" y1="247.72" x2="268.9" y2="247.72" stroke="#666" stroke-width="1"/>
<line x1="266.4" y1="227.04" x2="268.9" y2="227.04" stroke="#666" stroke-width="1"/>
<line x1="266.4" y1="206.36" x2="268.9" y2="206.36" stroke="#666" stroke-width="1"/>
<line x1="266.4" y1="320.1" x2="267.9" y2="320.1" stroke="#666" stroke-width="1"/>
<line x1="266.4" y1="299.42" x2="267.9" y2="299.42" stroke="#666" stroke-width="1"/>
<line x1="266.4" y1="278.74" x2="267.9" y2="278.74" stroke="#666" stroke-width="1"/>
<line x1="266.4" y1="258.06" x2="267.9" y2="258.06" stroke="#666" stroke-width="1"/>
<line x1="266.4" y1="237.38" x2="267.9" y2="237.38" stroke="#666" stroke-width="1"/>
<line x1="266.4" y1="216.7" x2="267.9" y2="216.7" stroke="#666" stroke-width="1"/>
<line x1="266.4" y1="340.9" x2="266.4" y2="338.4" stroke="#666" stroke-width="1"/>
<line x1="311.5" y1="340.9" x2="311.5" y2="338.4" stroke="#666" stroke-width="1"/>
<line x1="356.6" y1="340.9" x2="356.6" y2="338.4" stroke="#666" stroke-width="1"/>
<line x1="401.7" y1="340.9" x2="401.7" y2="338.4" stroke="#666" stroke-width="1"/>
<line x1="446.8" y1="340.9" x2="446.8" y2="338.4" stroke="#666" stroke-width="1"/>
<line x1="288.95" y1="340.9" x2="288.95" y2="339.4" stroke="#666" stroke-width="1"/>
<line x1="334.05" y1="340.9" x2="334.05" y2="339.4" stroke="#666" stroke-width="1"/>
<line x1="379.15" y1="340.9" x2="379.15" y2="339.4" stroke="#666" stroke-width="1"/>
<line x1="424.25" y1="340.9" x2="424.25" y2="339.4" stroke="#666" stroke-width="1"/>
<text x="263" y="333.19" font-size="9.7" text-anchor="end" fill="#1a1a1a" color="#1a1a1a" textLength="15.16" lengthAdjust="spacingAndGlyphs">-0.3</text>
<text x="263" y="312.51" font-size="9.7" text-anchor="end" fill="#1a1a1a" color="#1a1a1a" textLength="15.16" lengthAdjust="spacingAndGlyphs">-0.2</text>
<text x="263" y="291.83" font-size="9.7" text-anchor="end" fill="#1a1a1a" color="#1a1a1a" textLength="15.16" lengthAdjust="spacingAndGlyphs">-0.1</text>
<text x="263" y="271.15" font-size="9.7" text-anchor="end" fill="#1a1a1a" color="#1a1a1a" textLength="12.23" lengthAdjust="spacingAndGlyphs">0.0</text>
<text x="263" y="250.47" font-size="9.7" text-anchor="end" fill="#1a1a1a" color="#1a1a1a" textLength="12.23" lengthAdjust="spacingAndGlyphs">0.1</text>
<text x="263" y="229.79" font-size="9.7" text-anchor="end" fill="#1a1a1a" color="#1a1a1a" textLength="12.23" lengthAdjust="spacingAndGlyphs">0.2</text>
<text x="263" y="209.11" font-size="9.7" text-anchor="end" fill="#1a1a1a" color="#1a1a1a" textLength="12.23" lengthAdjust="spacingAndGlyphs">0.3</text>
<text x="266.4" y="350.9" font-size="9.7" text-anchor="middle" fill="#1a1a1a" color="#1a1a1a" textLength="4.89" lengthAdjust="spacingAndGlyphs">0</text>
<text x="311.5" y="350.9" font-size="9.7" text-anchor="middle" fill="#1a1a1a" color="#1a1a1a" textLength="9.79" lengthAdjust="spacingAndGlyphs">50</text>
<text x="356.6" y="350.9" font-size="9.7" text-anchor="middle" fill="#1a1a1a" color="#1a1a1a" textLength="14.68" lengthAdjust="spacingAndGlyphs">100</text>
<text x="401.7" y="350.9" font-size="9.7" text-anchor="middle" fill="#1a1a1a" color="#1a1a1a" textLength="14.68" lengthAdjust="spacingAndGlyphs">150</text>
<text x="446.8" y="350.9" font-size="9.7" text-anchor="middle" fill="#1a1a1a" color="#1a1a1a" textLength="14.68" lengthAdjust="spacingAndGlyphs">200</text>
<text x="356.4" y="368.1" font-size="11.2" text-anchor="middle" fill="#1a1a1a" color="#1a1a1a" textLength="40.4">Time (s)</text>
<text x="239.3" y="262.8" font-size="10.6" text-anchor="middle" fill="#1a1a1a" color="#1a1a1a" transform="rotate(-90 239.3 262.8)" textLength="51.6">Voltage (V)</text>
<text x="232.5" y="193.6" font-size="13" text-anchor="start" fill="#111" color="#111" font-weight="bold">e</text>
<path d="M288.2 259 L283.4 259 L283.4 233.7 L345.4 233.7 L345.4 259 L340.3 259" stroke="#333" stroke-width="1" fill="none"/>
<line x1="293.6" y1="253.6" x2="294.6" y2="253.6" stroke="#e89090" stroke-width="1.2"/>
<rect x="288.1" y="254.2" width="52.5" height="8.4" fill="#e4e4e4" stroke="#cdcdcd" stroke-width="0.6" rx="1.6" ry="1.6"/>
<line x1="293" y1="263.3" x2="301.9" y2="253.5" stroke="#5584c6" stroke-width="2.7" stroke-linecap="round"/>
<line x1="300.2" y1="263.3" x2="309.1" y2="253.5" stroke="#e27575" stroke-width="2.7" stroke-linecap="round"/>
<line x1="307.4" y1="263.3" x2="316.3" y2="253.5" stroke="#5584c6" stroke-width="2.7" stroke-linecap="round"/>
<line x1="314.6" y1="263.3" x2="323.5" y2="253.5" stroke="#e27575" stroke-width="2.7" stroke-linecap="round"/>
<line x1="321.8" y1="263.3" x2="330.7" y2="253.5" stroke="#5584c6" stroke-width="2.7" stroke-linecap="round"/>
<line x1="329" y1="263.3" x2="337.9" y2="253.5" stroke="#e27575" stroke-width="2.7" stroke-linecap="round"/>
<circle cx="314.4" cy="233.7" r="6.8" fill="#fff" stroke="#222" stroke-width="1"/>
<text x="314.4" y="237.3" font-size="10.2" text-anchor="middle" fill="#111" color="#111" font-weight="bold">V</text>
<line x1="297.2" y1="225.7" x2="303.8" y2="225.7" stroke="#e8402a" stroke-width="1.8"/>
<line x1="300.5" y1="222.4" x2="300.5" y2="229" stroke="#e8402a" stroke-width="1.8"/>
<line x1="325.1" y1="225.5" x2="331.9" y2="225.5" stroke="#5cc8c0" stroke-width="1.8"/>
<path d="M378.3 315.5 L373.4 315.5 L373.4 290.3 L435.9 290.3 L435.9 315.5 L430.2 315.5" stroke="#333" stroke-width="1" fill="none"/>
<line x1="383.4" y1="310.3" x2="384.4" y2="310.3" stroke="#e89090" stroke-width="1.2"/>
<rect x="378.3" y="311" width="52.5" height="8.6" fill="#e4e4e4" stroke="#cdcdcd" stroke-width="0.6" rx="1.6" ry="1.6"/>
<line x1="382.8" y1="320.3" x2="391.7" y2="310.3" stroke="#5584c6" stroke-width="2.7" stroke-linecap="round"/>
<line x1="389.95" y1="320.3" x2="398.85" y2="310.3" stroke="#e27575" stroke-width="2.7" stroke-linecap="round"/>
<line x1="397.1" y1="320.3" x2="406" y2="310.3" stroke="#5584c6" stroke-width="2.7" stroke-linecap="round"/>
<line x1="404.25" y1="320.3" x2="413.15" y2="310.3" stroke="#e27575" stroke-width="2.7" stroke-linecap="round"/>
<line x1="411.4" y1="320.3" x2="420.3" y2="310.3" stroke="#5584c6" stroke-width="2.7" stroke-linecap="round"/>
<line x1="418.55" y1="320.3" x2="427.45" y2="310.3" stroke="#e27575" stroke-width="2.7" stroke-linecap="round"/>
<circle cx="404.2" cy="290.3" r="6.6" fill="#fff" stroke="#222" stroke-width="1"/>
<text x="404.2" y="293.9" font-size="10.2" text-anchor="middle" fill="#111" color="#111" font-weight="bold">V</text>
<line x1="387.2" y1="282.3" x2="394" y2="282.3" stroke="#5cc8c0" stroke-width="1.8"/>
<line x1="415.4" y1="282.3" x2="422" y2="282.3" stroke="#e8402a" stroke-width="1.8"/>
<line x1="418.7" y1="279" x2="418.7" y2="285.6" stroke="#e8402a" stroke-width="1.8"/>
<text x="287" y="301.2" font-size="9.6" text-anchor="start" fill="#1a1a1a" color="#1a1a1a" textLength="74.4">Polarity switching</text>
<linearGradient id="arrg" gradientUnits="userSpaceOnUse" x1="354" y1="261" x2="362" y2="283"><stop offset="0" stop-color="#f4f4f4"/><stop offset="0.55" stop-color="#8a8a8a"/><stop offset="1" stop-color="#333"/></linearGradient>
<path d="M355.6 261.5 C349.3 267 349.6 280.5 364.6 282.5" stroke="url(#arrg)" stroke-width="2.1" fill="none"/>
<path d="M369.2 280.4 L362.4 279.2 L364.9 285.8 Z" stroke="none" stroke-width="1" fill="#333"/>
<path d="M502.9 332.6 C504.27 332.6 507.94 332.6 511.12 332.6 C514.3 332.6 518.8 332.6 521.98 332.6 C525.16 332.6 527.46 332.6 530.2 332.6 C532.94 332.6 535.24 332.69 538.42 332.6 C541.6 332.51 546.1 332.19 549.28 332.06 C552.46 331.92 554.76 331.96 557.5 331.78 C560.24 331.6 562.54 331.65 565.72 330.97 C568.9 330.28 573.4 328.97 576.58 327.7 C579.76 326.42 582.06 325.33 584.8 323.34 C587.54 321.34 589.84 319.88 593.02 315.71 C596.2 311.53 600.7 303.94 603.88 298.27 C607.06 292.59 609.36 287.27 612.1 281.64 C614.84 276.01 617.14 269.43 620.32 264.48 C623.5 259.52 628 254.94 631.18 251.94 C634.36 248.94 638.03 247.4 639.4 246.49" stroke="#3f74cc" stroke-width="0.9" fill="none" stroke-dasharray="2 1.5"/>
<path d="M502.9 332.6 C504.27 332.6 507.94 332.6 511.12 332.6 C514.3 332.6 518.8 332.6 521.98 332.6 C525.16 332.6 527.46 332.6 530.2 332.6 C532.94 332.6 535.24 333.01 538.42 332.6 C541.6 332.19 546.1 330.87 549.28 330.15 C552.46 329.42 554.76 329.19 557.5 328.24 C560.24 327.29 562.54 326.79 565.72 324.43 C568.9 322.06 573.4 317.61 576.58 314.07 C579.76 310.53 582.06 308.89 584.8 303.17 C587.54 297.45 589.84 288.91 593.02 279.74 C596.2 270.56 600.7 254.57 603.88 248.12 C607.06 241.68 609.36 239.31 612.1 241.04 C614.84 242.77 617.14 248.22 620.32 258.48 C623.5 268.74 628 291.41 631.18 302.62 C634.36 313.84 638.03 321.93 639.4 325.79" stroke="#1f2596" stroke-width="0.9" fill="none" stroke-dasharray="2 1.5"/>
<circle cx="502.9" cy="332.6" r="2.15" fill="#fff" stroke="#3f74cc" stroke-width="0.9"/>
<path d="M500.75 332.6 A2.15 2.15 0 0 1 505.05 332.6 Z" stroke="none" stroke-width="1" fill="#3f74cc"/>
<circle cx="511.12" cy="332.6" r="2.15" fill="#fff" stroke="#3f74cc" stroke-width="0.9"/>
<path d="M508.97 332.6 A2.15 2.15 0 0 1 513.27 332.6 Z" stroke="none" stroke-width="1" fill="#3f74cc"/>
<circle cx="521.98" cy="332.6" r="2.15" fill="#fff" stroke="#3f74cc" stroke-width="0.9"/>
<path d="M519.83 332.6 A2.15 2.15 0 0 1 524.13 332.6 Z" stroke="none" stroke-width="1" fill="#3f74cc"/>
<circle cx="530.2" cy="332.6" r="2.15" fill="#fff" stroke="#3f74cc" stroke-width="0.9"/>
<path d="M528.05 332.6 A2.15 2.15 0 0 1 532.35 332.6 Z" stroke="none" stroke-width="1" fill="#3f74cc"/>
<circle cx="538.42" cy="332.6" r="2.15" fill="#fff" stroke="#3f74cc" stroke-width="0.9"/>
<path d="M536.27 332.6 A2.15 2.15 0 0 1 540.57 332.6 Z" stroke="none" stroke-width="1" fill="#3f74cc"/>
<circle cx="549.28" cy="332.06" r="2.15" fill="#fff" stroke="#3f74cc" stroke-width="0.9"/>
<path d="M547.13 332.06 A2.15 2.15 0 0 1 551.43 332.06 Z" stroke="none" stroke-width="1" fill="#3f74cc"/>
<circle cx="557.5" cy="331.78" r="2.15" fill="#fff" stroke="#3f74cc" stroke-width="0.9"/>
<path d="M555.35 331.78 A2.15 2.15 0 0 1 559.65 331.78 Z" stroke="none" stroke-width="1" fill="#3f74cc"/>
<circle cx="565.72" cy="330.97" r="2.15" fill="#fff" stroke="#3f74cc" stroke-width="0.9"/>
<path d="M563.57 330.97 A2.15 2.15 0 0 1 567.87 330.97 Z" stroke="none" stroke-width="1" fill="#3f74cc"/>
<circle cx="576.58" cy="327.7" r="2.15" fill="#fff" stroke="#3f74cc" stroke-width="0.9"/>
<path d="M574.43 327.7 A2.15 2.15 0 0 1 578.73 327.7 Z" stroke="none" stroke-width="1" fill="#3f74cc"/>
<circle cx="584.8" cy="323.34" r="2.15" fill="#fff" stroke="#3f74cc" stroke-width="0.9"/>
<path d="M582.65 323.34 A2.15 2.15 0 0 1 586.95 323.34 Z" stroke="none" stroke-width="1" fill="#3f74cc"/>
<circle cx="593.02" cy="315.71" r="2.15" fill="#fff" stroke="#3f74cc" stroke-width="0.9"/>
<path d="M590.87 315.71 A2.15 2.15 0 0 1 595.17 315.71 Z" stroke="none" stroke-width="1" fill="#3f74cc"/>
<circle cx="603.88" cy="298.27" r="2.15" fill="#fff" stroke="#3f74cc" stroke-width="0.9"/>
<path d="M601.73 298.27 A2.15 2.15 0 0 1 606.03 298.27 Z" stroke="none" stroke-width="1" fill="#3f74cc"/>
<circle cx="612.1" cy="281.64" r="2.15" fill="#fff" stroke="#3f74cc" stroke-width="0.9"/>
<path d="M609.95 281.64 A2.15 2.15 0 0 1 614.25 281.64 Z" stroke="none" stroke-width="1" fill="#3f74cc"/>
<circle cx="620.32" cy="264.48" r="2.15" fill="#fff" stroke="#3f74cc" stroke-width="0.9"/>
<path d="M618.17 264.48 A2.15 2.15 0 0 1 622.47 264.48 Z" stroke="none" stroke-width="1" fill="#3f74cc"/>
<circle cx="631.18" cy="251.94" r="2.15" fill="#fff" stroke="#3f74cc" stroke-width="0.9"/>
<path d="M629.03 251.94 A2.15 2.15 0 0 1 633.33 251.94 Z" stroke="none" stroke-width="1" fill="#3f74cc"/>
<circle cx="639.4" cy="246.49" r="2.15" fill="#fff" stroke="#3f74cc" stroke-width="0.9"/>
<path d="M637.25 246.49 A2.15 2.15 0 0 1 641.55 246.49 Z" stroke="none" stroke-width="1" fill="#3f74cc"/>
<path d="M500.15 332.6 L502.9 329.85 L505.65 332.6 L502.9 335.35 Z" stroke="#1f2596" stroke-width="0.9" fill="#fff"/>
<path d="M500.15 332.6 L502.9 329.85 L505.65 332.6 Z" stroke="none" stroke-width="1" fill="#1f2596"/>
<path d="M508.37 332.6 L511.12 329.85 L513.87 332.6 L511.12 335.35 Z" stroke="#1f2596" stroke-width="0.9" fill="#fff"/>
<path d="M508.37 332.6 L511.12 329.85 L513.87 332.6 Z" stroke="none" stroke-width="1" fill="#1f2596"/>
<path d="M519.23 332.6 L521.98 329.85 L524.73 332.6 L521.98 335.35 Z" stroke="#1f2596" stroke-width="0.9" fill="#fff"/>
<path d="M519.23 332.6 L521.98 329.85 L524.73 332.6 Z" stroke="none" stroke-width="1" fill="#1f2596"/>
<path d="M527.45 332.6 L530.2 329.85 L532.95 332.6 L530.2 335.35 Z" stroke="#1f2596" stroke-width="0.9" fill="#fff"/>
<path d="M527.45 332.6 L530.2 329.85 L532.95 332.6 Z" stroke="none" stroke-width="1" fill="#1f2596"/>
<path d="M535.67 332.6 L538.42 329.85 L541.17 332.6 L538.42 335.35 Z" stroke="#1f2596" stroke-width="0.9" fill="#fff"/>
<path d="M535.67 332.6 L538.42 329.85 L541.17 332.6 Z" stroke="none" stroke-width="1" fill="#1f2596"/>
<path d="M546.53 330.15 L549.28 327.4 L552.03 330.15 L549.28 332.9 Z" stroke="#1f2596" stroke-width="0.9" fill="#fff"/>
<path d="M546.53 330.15 L549.28 327.4 L552.03 330.15 Z" stroke="none" stroke-width="1" fill="#1f2596"/>
<path d="M554.75 328.24 L557.5 325.49 L560.25 328.24 L557.5 330.99 Z" stroke="#1f2596" stroke-width="0.9" fill="#fff"/>
<path d="M554.75 328.24 L557.5 325.49 L560.25 328.24 Z" stroke="none" stroke-width="1" fill="#1f2596"/>
<path d="M562.97 324.43 L565.72 321.68 L568.47 324.43 L565.72 327.18 Z" stroke="#1f2596" stroke-width="0.9" fill="#fff"/>
<path d="M562.97 324.43 L565.72 321.68 L568.47 324.43 Z" stroke="none" stroke-width="1" fill="#1f2596"/>
<path d="M573.83 314.07 L576.58 311.32 L579.33 314.07 L576.58 316.82 Z" stroke="#1f2596" stroke-width="0.9" fill="#fff"/>
<path d="M573.83 314.07 L576.58 311.32 L579.33 314.07 Z" stroke="none" stroke-width="1" fill="#1f2596"/>
<path d="M582.05 303.17 L584.8 300.42 L587.55 303.17 L584.8 305.92 Z" stroke="#1f2596" stroke-width="0.9" fill="#fff"/>
<path d="M582.05 303.17 L584.8 300.42 L587.55 303.17 Z" stroke="none" stroke-width="1" fill="#1f2596"/>
<path d="M590.27 279.74 L593.02 276.99 L595.77 279.74 L593.02 282.49 Z" stroke="#1f2596" stroke-width="0.9" fill="#fff"/>
<path d="M590.27 279.74 L593.02 276.99 L595.77 279.74 Z" stroke="none" stroke-width="1" fill="#1f2596"/>
<path d="M601.13 248.12 L603.88 245.38 L606.63 248.12 L603.88 250.88 Z" stroke="#1f2596" stroke-width="0.9" fill="#fff"/>
<path d="M601.13 248.12 L603.88 245.38 L606.63 248.12 Z" stroke="none" stroke-width="1" fill="#1f2596"/>
<path d="M609.35 241.04 L612.1 238.29 L614.85 241.04 L612.1 243.79 Z" stroke="#1f2596" stroke-width="0.9" fill="#fff"/>
<path d="M609.35 241.04 L612.1 238.29 L614.85 241.04 Z" stroke="none" stroke-width="1" fill="#1f2596"/>
<path d="M617.57 258.48 L620.32 255.73 L623.07 258.48 L620.32 261.23 Z" stroke="#1f2596" stroke-width="0.9" fill="#fff"/>
<path d="M617.57 258.48 L620.32 255.73 L623.07 258.48 Z" stroke="none" stroke-width="1" fill="#1f2596"/>
<path d="M628.43 302.62 L631.18 299.88 L633.93 302.62 L631.18 305.38 Z" stroke="#1f2596" stroke-width="0.9" fill="#fff"/>
<path d="M628.43 302.62 L631.18 299.88 L633.93 302.62 Z" stroke="none" stroke-width="1" fill="#1f2596"/>
<path d="M636.65 325.79 L639.4 323.04 L642.15 325.79 L639.4 328.54 Z" stroke="#1f2596" stroke-width="0.9" fill="#fff"/>
<path d="M636.65 325.79 L639.4 323.04 L642.15 325.79 Z" stroke="none" stroke-width="1" fill="#1f2596"/>
<rect x="492.3" y="195.9" width="159.5" height="145" fill="none" stroke="#555" stroke-width="1"/>
<line x1="492.3" y1="332.6" x2="494.8" y2="332.6" stroke="#555" stroke-width="1"/>
<line x1="492.3" y1="305.35" x2="494.8" y2="305.35" stroke="#555" stroke-width="1"/>
<line x1="492.3" y1="278.1" x2="494.8" y2="278.1" stroke="#555" stroke-width="1"/>
<line x1="492.3" y1="250.85" x2="494.8" y2="250.85" stroke="#555" stroke-width="1"/>
<line x1="492.3" y1="223.6" x2="494.8" y2="223.6" stroke="#555" stroke-width="1"/>
<line x1="492.3" y1="196.35" x2="494.8" y2="196.35" stroke="#555" stroke-width="1"/>
<line x1="492.3" y1="318.98" x2="493.8" y2="318.98" stroke="#555" stroke-width="1"/>
<line x1="492.3" y1="291.73" x2="493.8" y2="291.73" stroke="#555" stroke-width="1"/>
<line x1="492.3" y1="264.48" x2="493.8" y2="264.48" stroke="#555" stroke-width="1"/>
<line x1="492.3" y1="237.23" x2="493.8" y2="237.23" stroke="#555" stroke-width="1"/>
<line x1="492.3" y1="209.98" x2="493.8" y2="209.98" stroke="#555" stroke-width="1"/>
<line x1="651.8" y1="332.6" x2="649.3" y2="332.6" stroke="#555" stroke-width="1"/>
<line x1="651.8" y1="305.35" x2="649.3" y2="305.35" stroke="#555" stroke-width="1"/>
<line x1="651.8" y1="278.1" x2="649.3" y2="278.1" stroke="#555" stroke-width="1"/>
<line x1="651.8" y1="250.85" x2="649.3" y2="250.85" stroke="#555" stroke-width="1"/>
<line x1="651.8" y1="223.6" x2="649.3" y2="223.6" stroke="#555" stroke-width="1"/>
<line x1="651.8" y1="196.35" x2="649.3" y2="196.35" stroke="#555" stroke-width="1"/>
<line x1="651.8" y1="318.98" x2="650.3" y2="318.98" stroke="#555" stroke-width="1"/>
<line x1="651.8" y1="291.73" x2="650.3" y2="291.73" stroke="#555" stroke-width="1"/>
<line x1="651.8" y1="264.48" x2="650.3" y2="264.48" stroke="#555" stroke-width="1"/>
<line x1="651.8" y1="237.23" x2="650.3" y2="237.23" stroke="#555" stroke-width="1"/>
<line x1="651.8" y1="209.98" x2="650.3" y2="209.98" stroke="#555" stroke-width="1"/>
<line x1="494.68" y1="340.9" x2="494.68" y2="339.6" stroke="#555" stroke-width="0.8"/>
<line x1="496.84" y1="340.9" x2="496.84" y2="339.6" stroke="#555" stroke-width="0.8"/>
<line x1="498.67" y1="340.9" x2="498.67" y2="339.6" stroke="#555" stroke-width="0.8"/>
<line x1="500.25" y1="340.9" x2="500.25" y2="339.6" stroke="#555" stroke-width="0.8"/>
<line x1="501.65" y1="340.9" x2="501.65" y2="339.6" stroke="#555" stroke-width="0.8"/>
<line x1="502.9" y1="340.9" x2="502.9" y2="338.4" stroke="#555" stroke-width="0.8"/>
<line x1="511.12" y1="340.9" x2="511.12" y2="339.6" stroke="#555" stroke-width="0.8"/>
<line x1="515.93" y1="340.9" x2="515.93" y2="339.6" stroke="#555" stroke-width="0.8"/>
<line x1="519.34" y1="340.9" x2="519.34" y2="339.6" stroke="#555" stroke-width="0.8"/>
<line x1="521.98" y1="340.9" x2="521.98" y2="339.6" stroke="#555" stroke-width="0.8"/>
<line x1="524.14" y1="340.9" x2="524.14" y2="339.6" stroke="#555" stroke-width="0.8"/>
<line x1="525.97" y1="340.9" x2="525.97" y2="339.6" stroke="#555" stroke-width="0.8"/>
<line x1="527.55" y1="340.9" x2="527.55" y2="339.6" stroke="#555" stroke-width="0.8"/>
<line x1="528.95" y1="340.9" x2="528.95" y2="339.6" stroke="#555" stroke-width="0.8"/>
<line x1="530.2" y1="340.9" x2="530.2" y2="338.4" stroke="#555" stroke-width="0.8"/>
<line x1="538.42" y1="340.9" x2="538.42" y2="339.6" stroke="#555" stroke-width="0.8"/>
<line x1="543.23" y1="340.9" x2="543.23" y2="339.6" stroke="#555" stroke-width="0.8"/>
<line x1="546.64" y1="340.9" x2="546.64" y2="339.6" stroke="#555" stroke-width="0.8"/>
<line x1="549.28" y1="340.9" x2="549.28" y2="339.6" stroke="#555" stroke-width="0.8"/>
<line x1="551.44" y1="340.9" x2="551.44" y2="339.6" stroke="#555" stroke-width="0.8"/>
<line x1="553.27" y1="340.9" x2="553.27" y2="339.6" stroke="#555" stroke-width="0.8"/>
<line x1="554.85" y1="340.9" x2="554.85" y2="339.6" stroke="#555" stroke-width="0.8"/>
<line x1="556.25" y1="340.9" x2="556.25" y2="339.6" stroke="#555" stroke-width="0.8"/>
<line x1="557.5" y1="340.9" x2="557.5" y2="338.4" stroke="#555" stroke-width="0.8"/>
<line x1="565.72" y1="340.9" x2="565.72" y2="339.6" stroke="#555" stroke-width="0.8"/>
<line x1="570.53" y1="340.9" x2="570.53" y2="339.6" stroke="#555" stroke-width="0.8"/>
<line x1="573.94" y1="340.9" x2="573.94" y2="339.6" stroke="#555" stroke-width="0.8"/>
<line x1="576.58" y1="340.9" x2="576.58" y2="339.6" stroke="#555" stroke-width="0.8"/>
<line x1="578.74" y1="340.9" x2="578.74" y2="339.6" stroke="#555" stroke-width="0.8"/>
<line x1="580.57" y1="340.9" x2="580.57" y2="339.6" stroke="#555" stroke-width="0.8"/>
<line x1="582.15" y1="340.9" x2="582.15" y2="339.6" stroke="#555" stroke-width="0.8"/>
<line x1="583.55" y1="340.9" x2="583.55" y2="339.6" stroke="#555" stroke-width="0.8"/>
<line x1="584.8" y1="340.9" x2="584.8" y2="338.4" stroke="#555" stroke-width="0.8"/>
<line x1="593.02" y1="340.9" x2="593.02" y2="339.6" stroke="#555" stroke-width="0.8"/>
<line x1="597.83" y1="340.9" x2="597.83" y2="339.6" stroke="#555" stroke-width="0.8"/>
<line x1="601.24" y1="340.9" x2="601.24" y2="339.6" stroke="#555" stroke-width="0.8"/>
<line x1="603.88" y1="340.9" x2="603.88" y2="339.6" stroke="#555" stroke-width="0.8"/>
<line x1="606.04" y1="340.9" x2="606.04" y2="339.6" stroke="#555" stroke-width="0.8"/>
<line x1="607.87" y1="340.9" x2="607.87" y2="339.6" stroke="#555" stroke-width="0.8"/>
<line x1="609.45" y1="340.9" x2="609.45" y2="339.6" stroke="#555" stroke-width="0.8"/>
<line x1="610.85" y1="340.9" x2="610.85" y2="339.6" stroke="#555" stroke-width="0.8"/>
<line x1="612.1" y1="340.9" x2="612.1" y2="338.4" stroke="#555" stroke-width="0.8"/>
<line x1="620.32" y1="340.9" x2="620.32" y2="339.6" stroke="#555" stroke-width="0.8"/>
<line x1="625.13" y1="340.9" x2="625.13" y2="339.6" stroke="#555" stroke-width="0.8"/>
<line x1="628.54" y1="340.9" x2="628.54" y2="339.6" stroke="#555" stroke-width="0.8"/>
<line x1="631.18" y1="340.9" x2="631.18" y2="339.6" stroke="#555" stroke-width="0.8"/>
<line x1="633.34" y1="340.9" x2="633.34" y2="339.6" stroke="#555" stroke-width="0.8"/>
<line x1="635.17" y1="340.9" x2="635.17" y2="339.6" stroke="#555" stroke-width="0.8"/>
<line x1="636.75" y1="340.9" x2="636.75" y2="339.6" stroke="#555" stroke-width="0.8"/>
<line x1="638.15" y1="340.9" x2="638.15" y2="339.6" stroke="#555" stroke-width="0.8"/>
<line x1="639.4" y1="340.9" x2="639.4" y2="338.4" stroke="#555" stroke-width="0.8"/>
<line x1="647.62" y1="340.9" x2="647.62" y2="339.6" stroke="#555" stroke-width="0.8"/>
<text x="489" y="335.35" font-size="9.7" text-anchor="end" fill="#1a1a1a" color="#1a1a1a" textLength="12.23" lengthAdjust="spacingAndGlyphs">0.0</text>
<text x="489" y="308.1" font-size="9.7" text-anchor="end" fill="#1a1a1a" color="#1a1a1a" textLength="12.23" lengthAdjust="spacingAndGlyphs">0.1</text>
<text x="489" y="280.85" font-size="9.7" text-anchor="end" fill="#1a1a1a" color="#1a1a1a" textLength="12.23" lengthAdjust="spacingAndGlyphs">0.2</text>
<text x="489" y="253.6" font-size="9.7" text-anchor="end" fill="#1a1a1a" color="#1a1a1a" textLength="12.23" lengthAdjust="spacingAndGlyphs">0.3</text>
<text x="489" y="226.35" font-size="9.7" text-anchor="end" fill="#1a1a1a" color="#1a1a1a" textLength="12.23" lengthAdjust="spacingAndGlyphs">0.4</text>
<text x="489" y="199.1" font-size="9.7" text-anchor="end" fill="#1a1a1a" color="#1a1a1a" textLength="12.23" lengthAdjust="spacingAndGlyphs">0.5</text>
<text x="655.4" y="335.35" font-size="9.7" text-anchor="start" fill="#1a1a1a" color="#1a1a1a" textLength="4.89" lengthAdjust="spacingAndGlyphs">0</text>
<text x="655.4" y="308.1" font-size="9.7" text-anchor="start" fill="#1a1a1a" color="#1a1a1a" textLength="4.89" lengthAdjust="spacingAndGlyphs">1</text>
<text x="655.4" y="280.85" font-size="9.7" text-anchor="start" fill="#1a1a1a" color="#1a1a1a" textLength="4.89" lengthAdjust="spacingAndGlyphs">2</text>
<text x="655.4" y="253.6" font-size="9.7" text-anchor="start" fill="#1a1a1a" color="#1a1a1a" textLength="4.89" lengthAdjust="spacingAndGlyphs">3</text>
<text x="655.4" y="226.35" font-size="9.7" text-anchor="start" fill="#1a1a1a" color="#1a1a1a" textLength="4.89" lengthAdjust="spacingAndGlyphs">4</text>
<text x="655.4" y="199.1" font-size="9.7" text-anchor="start" fill="#1a1a1a" color="#1a1a1a" textLength="4.89" lengthAdjust="spacingAndGlyphs">5</text>
<text x="502.6" y="352" font-size="9.4" text-anchor="middle" fill="#1a1a1a" color="#1a1a1a">10<tspan dy="-3.8" font-size="6.6">2</tspan></text>
<text x="529.9" y="352" font-size="9.4" text-anchor="middle" fill="#1a1a1a" color="#1a1a1a">10<tspan dy="-3.8" font-size="6.6">3</tspan></text>
<text x="557.2" y="352" font-size="9.4" text-anchor="middle" fill="#1a1a1a" color="#1a1a1a">10<tspan dy="-3.8" font-size="6.6">4</tspan></text>
<text x="584.5" y="352" font-size="9.4" text-anchor="middle" fill="#1a1a1a" color="#1a1a1a">10<tspan dy="-3.8" font-size="6.6">5</tspan></text>
<text x="611.8" y="352" font-size="9.4" text-anchor="middle" fill="#1a1a1a" color="#1a1a1a">10<tspan dy="-3.8" font-size="6.6">6</tspan></text>
<text x="639.1" y="352" font-size="9.4" text-anchor="middle" fill="#1a1a1a" color="#1a1a1a">10<tspan dy="-3.8" font-size="6.6">7</tspan></text>
<text x="572.1" y="368" font-size="11.2" text-anchor="middle" fill="#1a1a1a" color="#1a1a1a" textLength="114.7">External resistance (Ω)</text>
<text x="470.9" y="267.5" font-size="10.6" text-anchor="middle" fill="#1a1a1a" color="#1a1a1a" transform="rotate(-90 470.9 267.5)" textLength="51.7">Voltage (V)</text>
<text x="676.3" y="268.3" font-size="10.2" text-anchor="middle" fill="#1a1a1a" color="#1a1a1a" transform="rotate(-90 676.3 268.3)">Power density (µW/cm<tspan dy="-3.5" font-size="7">2</tspan><tspan dy="3.5">)</tspan></text>
<text x="464" y="194.3" font-size="13" text-anchor="start" fill="#111" color="#111" font-weight="bold">f</text>
<line x1="563.4" y1="208.4" x2="584.1" y2="208.4" stroke="#3f74cc" stroke-width="0.9" stroke-dasharray="2 1.5"/>
<circle cx="573.9" cy="208.4" r="2.15" fill="#fff" stroke="#3f74cc" stroke-width="0.9"/>
<path d="M571.75 208.4 A2.15 2.15 0 0 1 576.05 208.4 Z" stroke="none" stroke-width="1" fill="#3f74cc"/>
<line x1="563.4" y1="219.3" x2="584.1" y2="219.3" stroke="#1f2596" stroke-width="0.9" stroke-dasharray="2 1.5"/>
<path d="M571.15 219.3 L573.9 216.55 L576.65 219.3 L573.9 222.05 Z" stroke="#1f2596" stroke-width="0.9" fill="#fff"/>
<path d="M571.15 219.3 L573.9 216.55 L576.65 219.3 Z" stroke="none" stroke-width="1" fill="#1f2596"/>
<text x="587" y="211.8" font-size="9.2" text-anchor="start" fill="#3f74cc" color="#3f74cc" textLength="29.8">Voltage</text>
<text x="587" y="222.7" font-size="9.2" text-anchor="start" fill="#1f2596" color="#1f2596" textLength="54.9">Power density</text>
<path d="M529.9 242.2 L507.2 242.2 L507.2 297.9 L519.4 297.9" stroke="#333" stroke-width="0.9" fill="none"/>
<path d="M543.6 242.2 L566.3 242.2 L566.3 297.9 L551.6 297.9" stroke="#333" stroke-width="0.9" fill="none"/>
<line x1="507.2" y1="270.3" x2="525.9" y2="270.3" stroke="#333" stroke-width="0.9"/>
<line x1="547.5" y1="270.3" x2="566.3" y2="270.3" stroke="#333" stroke-width="0.9"/>
<rect x="525.9" y="266.9" width="21.6" height="6.8" fill="#ececec" stroke="#444" stroke-width="0.8"/>
<line x1="526.8" y1="278" x2="545.3" y2="262.7" stroke="#222" stroke-width="0.9"/>
<path d="M547.8 260.6 L542.6 262.6 L545.6 265.8 Z" stroke="none" stroke-width="1" fill="#111"/>
<text x="536.7" y="284.8" font-size="7.4" text-anchor="middle" fill="#1a1a1a" color="#1a1a1a">Load</text>
<rect x="519.4" y="292.1" width="32.2" height="12.2" fill="#fff" stroke="#444" stroke-width="0.9"/>
<text x="535.5" y="301.8" font-size="9.6" text-anchor="middle" fill="#111" color="#111" textLength="23.4">FSHC</text>
<circle cx="536.7" cy="242.2" r="6.7" fill="#fff" stroke="#222" stroke-width="1"/>
<text x="536.7" y="245.8" font-size="10.2" text-anchor="middle" fill="#111" color="#111" font-weight="bold">V</text>
<text x="4.5" y="384.6" font-size="13" text-anchor="start" fill="#111" color="#111" font-weight="bold">g</text>
<path d="M26.3 415.6 L26.3 495.5 Q26.3 499.2 30 499.2 L50.5 499.2 Q54.2 499.2 54.2 495.5 L54.2 415.6 Z" fill="#d9e6f3"/>
<clipPath id="gfib"><rect x="28" y="409.6" width="24" height="83.2"/></clipPath>
<rect x="32.6" y="409.5" width="15.2" height="84" fill="#e1e9f2" stroke="none" stroke-width="1"/>
<g clip-path="url(#gfib)"><path d="M31.9 402 L47.9 415.7 L47.9 424.5 L31.9 410.8 Z" fill="#df8a9a" stroke="#df8a9a" stroke-width="0.9" stroke-linejoin="round"/><path d="M31.9 417.2 L47.9 430.9 L47.9 439.7 L31.9 426 Z" fill="#6a96cc" stroke="#6a96cc" stroke-width="0.9" stroke-linejoin="round"/><path d="M31.9 432.4 L47.9 446.1 L47.9 454.9 L31.9 441.2 Z" fill="#df8a9a" stroke="#df8a9a" stroke-width="0.9" stroke-linejoin="round"/><path d="M31.9 447.6 L47.9 461.3 L47.9 470.1 L31.9 456.4 Z" fill="#6a96cc" stroke="#6a96cc" stroke-width="0.9" stroke-linejoin="round"/><path d="M31.9 462.8 L47.9 476.5 L47.9 485.3 L31.9 471.6 Z" fill="#df8a9a" stroke="#df8a9a" stroke-width="0.9" stroke-linejoin="round"/><path d="M31.9 478 L47.9 491.7 L47.9 500.5 L31.9 486.8 Z" fill="#6a96cc" stroke="#6a96cc" stroke-width="0.9" stroke-linejoin="round"/><path d="M31.9 493.2 L47.9 506.9 L47.9 515.7 L31.9 502 Z" fill="#df8a9a" stroke="#df8a9a" stroke-width="0.9" stroke-linejoin="round"/></g>
<rect x="31.4" y="415.6" width="17.4" height="78" fill="#d9e6f3" stroke="none" stroke-width="1" opacity="0.25"/>
<path d="M26.3 408.7 L26.3 495.5 Q26.3 499.2 30 499.2 L50.5 499.2 Q54.2 499.2 54.2 495.5 L54.2 408.7" fill="none" stroke="#8a8a8a" stroke-width="0.9"/>
<rect x="31.1" y="403.5" width="17.6" height="6.2" fill="#eba978" stroke="#c98a5a" stroke-width="0.5" rx="1"/>
<rect x="31.3" y="492.8" width="17.5" height="4.4" fill="#d8b9a2" stroke="none" stroke-width="1" rx="0.8"/>
<path d="M108.6 377.3 L40.3 377.3 L40.3 382" stroke="#333" stroke-width="1" fill="none"/>
<path d="M39 381.6 L41.6 381.6 L43.1 384.5 L42.2 392.4 L38.4 392.4 L37.5 384.5 Z" stroke="none" stroke-width="1" fill="#8a8a8a"/>
<rect x="38.9" y="392.3" width="2.9" height="4.2" fill="#cbc24a" stroke="none" stroke-width="1"/>
<line x1="40.3" y1="396.5" x2="40.3" y2="412" stroke="#444" stroke-width="1"/>
<circle cx="40" cy="411.9" r="2" fill="#222" stroke="none" stroke-width="1"/>
<circle cx="39.9" cy="492.5" r="2" fill="#222" stroke="none" stroke-width="1"/>
<line x1="39.9" y1="497" x2="39.9" y2="507.5" stroke="#777" stroke-width="1" stroke-dasharray="1 1"/>
<rect x="38.6" y="507.3" width="2.9" height="3.4" fill="#cbc24a" stroke="none" stroke-width="1"/>
<path d="M37.8 510.6 L42.1 510.6 L43.1 519.5 L40.3 524.3 L37.0 519.5 Z" stroke="none" stroke-width="1" fill="#f0404e"/>
<path d="M40.3 523.5 L40.3 525.2 L108.6 525.2" stroke="#333" stroke-width="1" fill="none"/>
<circle cx="48.4" cy="391" r="3.3" fill="#fff" stroke="#666" stroke-width="0.9"/>
<line x1="46.6" y1="391" x2="50.2" y2="391" stroke="#555" stroke-width="1.3"/>
<circle cx="48.4" cy="513.3" r="3.3" fill="#fff" stroke="#777" stroke-width="0.8"/>
<line x1="46.6" y1="513.3" x2="50.2" y2="513.3" stroke="#e8303a" stroke-width="1.2"/>
<line x1="48.4" y1="511.5" x2="48.4" y2="515.1" stroke="#e8303a" stroke-width="1.2"/>
<line x1="87.5" y1="377.3" x2="87.5" y2="525.2" stroke="#333" stroke-width="1"/>
<line x1="108.6" y1="377.3" x2="108.6" y2="431.4" stroke="#333" stroke-width="1"/>
<line x1="108.6" y1="453.3" x2="108.6" y2="525.2" stroke="#333" stroke-width="1"/>
<line x1="108.6" y1="431.4" x2="120.3" y2="446.3" stroke="#333" stroke-width="1"/>
<circle cx="108.6" cy="431.4" r="2" fill="#111" stroke="none" stroke-width="1"/>
<circle cx="87.5" cy="432.2" r="1.7" fill="#fff" stroke="#333" stroke-width="0.9"/>
<circle cx="87.5" cy="473.5" r="1.7" fill="#fff" stroke="#333" stroke-width="0.9"/>
<circle cx="108.6" cy="453.3" r="1.7" fill="#fff" stroke="#333" stroke-width="0.9"/>
<circle cx="108.6" cy="493.9" r="1.7" fill="#fff" stroke="#333" stroke-width="0.9"/>
<circle cx="87.4" cy="453" r="7.3" fill="#fff" stroke="#222" stroke-width="1"/>
<text x="87.4" y="456.6" font-size="10.2" text-anchor="middle" fill="#111" color="#111" font-weight="bold">V</text>
<circle cx="108.5" cy="473.8" r="7.2" fill="#fff" stroke="#222" stroke-width="1"/>
<text x="108.5" y="477.5" font-size="10.2" text-anchor="middle" fill="#111" color="#111" font-weight="bold">A</text>
<text x="113.5" y="428.8" font-size="9.4" text-anchor="start" fill="#1a1a1a" color="#1a1a1a" textLength="26">switch</text>
<text x="62.3" y="457.3" font-size="9.8" text-anchor="start" fill="#111" color="#111" font-weight="bold">V<tspan font-size="6.6" dy="2.2">OC</tspan></text>
<text x="115.2" y="490.9" font-size="9.2" text-anchor="start" fill="#111" color="#111" font-weight="bold">I<tspan font-size="6.4" dy="2.4">SC</tspan></text>
<rect x="26.8" y="538.7" width="17" height="7" fill="#e08080" stroke="none" stroke-width="1"/>
<rect x="83.7" y="538.7" width="17.1" height="7" fill="#6a96c8" stroke="none" stroke-width="1"/>
<text x="47.6" y="545.9" font-size="10" text-anchor="start" fill="#1a1a1a" color="#1a1a1a" textLength="28.1">NCNT</text>
<text x="104.6" y="545.9" font-size="10" text-anchor="start" fill="#1a1a1a" color="#1a1a1a" textLength="28.4">OCNT</text>
<rect x="531.5" y="380.5" width="3.6" height="142.9" fill="#c9b3e3" stroke="none" stroke-width="1" opacity="0.85"/>
<path d="M200.5 447.9 L200.5 447.9 L200.55 434.32 L200.6 420.74 L200.64 411.04 L200.74 402.12 L200.89 396.68 L201.17 394.36 L201.56 392.8 L202.1 390.28 L202.2 447.9 L202.2 447.9 L202.25 434.32 L202.3 420.74 L202.34 411.04 L202.44 402.12 L202.59 396.68 L202.87 394.36 L203.26 392.8 L204.13 391.25 L205.1 390.28 L205.2 447.9 L205.2 447.9 L205.25 434.32 L205.3 420.74 L205.34 411.04 L205.44 402.12 L205.59 396.68 L205.87 394.36 L206.26 392.8 L207.13 391.25 L207.7 390.28 L207.8 447.9 L207.8 447.9 L207.85 434.32 L207.9 420.74 L207.94 411.04 L208.04 402.12 L208.19 396.68 L208.47 394.36 L208.86 392.8 L209.73 391.25 L209.8 390.28 L209.9 447.9 L209.9 447.9 L209.95 434.32 L210 420.74 L210.04 411.04 L210.14 402.12 L210.29 396.68 L210.57 394.36 L210.96 392.8 L211.83 391.25 L212.6 390.28 L212.7 447.9 L212.7 447.9 L212.75 434.32 L212.8 420.74 L212.84 411.04 L212.94 402.12 L213.09 396.68 L213.37 394.36 L213.76 392.8 L214.63 391.25 L215.3 390.28 L215.4 447.9 L215.4 447.9 L215.45 434.32 L215.5 420.74 L215.54 411.04 L215.64 402.12 L215.79 396.68 L216.07 394.36 L216.46 392.8 L217.33 391.25 L218.5 390.28 L218.6 447.9 L218.6 447.9 L218.65 434.32 L218.7 420.74 L218.74 411.04 L218.84 402.12 L218.99 396.68 L219.27 394.36 L219.66 392.8 L220.53 391.25 L221.5 390.28 L221.6 447.9 L221.6 447.9 L221.65 434.32 L221.7 420.74 L221.74 411.04 L221.84 402.12 L221.99 396.68 L222.27 394.36 L222.66 392.8 L223.53 391.25 L224.4 390.28 L224.5 447.9 L224.5 447.9 L224.55 434.32 L224.6 420.74 L224.64 411.04 L224.74 402.12 L224.89 396.68 L225.17 394.36 L225.56 392.8 L226.43 391.25 L227.4 390.28 L227.5 447.9 L227.5 447.9 L227.55 434.32 L227.6 420.74 L227.64 411.04 L227.74 402.12 L227.89 396.68 L228.17 394.36 L228.56 392.8 L229.43 391.25 L230.3 390.28 L230.4 447.9 L230.4 447.9 L230.45 434.32 L230.5 420.74 L230.54 411.04 L230.64 402.12 L230.79 396.68 L231.07 394.36 L231.46 392.8 L232.33 391.25 L233.1 390.28 L233.2 447.9 L233.2 447.9 L233.25 434.32 L233.3 420.74 L233.34 411.04 L233.44 402.12 L233.59 396.68 L233.87 394.36 L234.26 392.8 L235.13 391.25 L236.6 390.28 L236.7 447.9 L236.7 447.9 L236.75 434.32 L236.8 420.74 L236.84 411.04 L236.94 402.12 L237.09 396.68 L237.37 394.36 L237.76 392.8 L238.63 391.25 L239.3 390.28 L239.4 447.9 L239.4 447.9 L239.45 434.32 L239.5 420.74 L239.54 411.04 L239.64 402.12 L239.79 396.68 L240.07 394.36 L240.46 392.8 L241.33 391.25 L242.3 390.28 L242.4 447.9 L242.4 447.9 L242.45 434.32 L242.5 420.74 L242.54 411.04 L242.64 402.12 L242.79 396.68 L243.07 394.36 L243.46 392.8 L244.33 391.25 L245.6 390.28 L245.7 447.9 L245.7 447.9 L245.75 434.32 L245.8 420.74 L245.84 411.04 L245.94 402.12 L246.09 396.68 L246.37 394.36 L246.76 392.8 L247.63 391.25 L248.5 390.28 L248.6 447.9 L248.6 447.9 L248.65 434.32 L248.7 420.74 L248.74 411.04 L248.84 402.12 L248.99 396.68 L249.27 394.36 L249.66 392.8 L250.53 391.25 L252.4 390.28 L252.5 447.9 L252.5 447.9 L252.55 434.32 L252.6 420.74 L252.64 411.04 L252.74 402.12 L252.89 396.68 L253.17 394.36 L253.56 392.8 L254.43 391.25 L255.3 390.28 L255.4 447.9 L255.4 447.9 L255.45 434.32 L255.5 420.74 L255.54 411.04 L255.64 402.12 L255.79 396.68 L256.07 394.36 L256.46 392.8 L257.33 391.25 L258 390.28 L258.1 447.9 L258.1 447.9 L258.15 434.32 L258.2 420.74 L258.24 411.04 L258.34 402.12 L258.49 396.68 L258.77 394.36 L259.16 392.8 L260.03 391.25 L260.9 390.28 L261 447.9 L261 447.9 L261.05 434.32 L261.1 420.74 L261.14 411.04 L261.24 402.12 L261.39 396.68 L261.67 394.36 L262.06 392.8 L262.93 391.25 L263.9 390.28 L264 447.9 L264 447.9 L264.05 434.32 L264.1 420.74 L264.14 411.04 L264.24 402.12 L264.39 396.68 L264.67 394.36 L265.06 392.8 L265.93 391.25 L267.5 390.28 L267.6 447.9 L267.6 447.9 L267.65 434.32 L267.7 420.74 L267.74 411.04 L267.84 402.12 L267.99 396.68 L268.27 394.36 L268.66 392.8 L269.53 391.25 L270.5 390.28 L270.6 447.9 L270.6 447.9 L270.65 434.32 L270.7 420.74 L270.74 411.04 L270.84 402.12 L270.99 396.68 L271.27 394.36 L271.66 392.8 L272.53 391.25 L273.7 390.28 L273.8 447.9 L273.8 447.9 L273.85 434.32 L273.9 420.74 L273.94 411.04 L274.04 402.12 L274.19 396.68 L274.47 394.36 L274.86 392.8 L275.73 391.25 L276.7 390.28 L276.8 447.9 L276.8 447.9 L276.85 434.32 L276.9 420.74 L276.94 411.04 L277.04 402.12 L277.19 396.68 L277.47 394.36 L277.86 392.8 L278.73 391.25 L280.3 390.28 L280.4 447.9 L280.4 447.9 L280.45 434.32 L280.5 420.74 L280.54 411.04 L280.64 402.12 L280.79 396.68 L281.07 394.36 L281.46 392.8 L282.33 391.25 L283.2 390.28 L283.3 447.9 L283.3 447.9 L283.35 434.32 L283.4 420.74 L283.44 411.04 L283.54 402.12 L283.69 396.68 L283.97 394.36 L284.36 392.8 L285.23 391.25 L286.1 390.28 L286.2 447.9 L286.2 447.9 L286.25 434.32 L286.3 420.74 L286.34 411.04 L286.44 402.12 L286.59 396.68 L286.87 394.36 L287.26 392.8 L288.13 391.25 L289.8 390.28 L289.9 447.9 L289.9 447.9 L289.95 434.32 L290 420.74 L290.04 411.04 L290.14 402.12 L290.29 396.68 L290.57 394.36 L290.96 392.8 L291.83 391.25 L292.8 390.28 L292.9 447.9 L292.9 447.9 L292.95 434.32 L293 420.74 L293.04 411.04 L293.14 402.12 L293.29 396.68 L293.57 394.36 L293.96 392.8 L294.83 391.25 L296.3 390.28 L296.4 447.9 L296.4 447.9 L296.45 434.32 L296.5 420.74 L296.54 411.04 L296.64 402.12 L296.79 396.68 L297.07 394.36 L297.46 392.8 L298.33 391.25 L299.6 390.28 L299.7 447.9 L299.7 447.9 L299.75 434.32 L299.8 420.74 L299.84 411.04 L299.94 402.12 L300.09 396.68 L300.37 394.36 L300.76 392.8 L301.63 391.25 L303.3 390.28 L303.4 447.9 L303.4 447.9 L303.45 434.32 L303.5 420.74 L303.54 411.04 L303.64 402.12 L303.79 396.68 L304.07 394.36 L304.46 392.8 L305.33 391.25 L306.4 390.28 L306.5 447.9 L306.5 447.9 L306.55 434.32 L306.6 420.74 L306.64 411.04 L306.74 402.12 L306.89 396.68 L307.17 394.36 L307.56 392.8 L308.43 391.25 L309.5 390.28 L309.6 447.9 L309.6 447.9 L309.65 434.32 L309.7 420.74 L309.74 411.04 L309.84 402.12 L309.99 396.68 L310.27 394.36 L310.66 392.8 L311.53 391.25 L312.5 390.28 L312.6 447.9 L312.6 447.9 L312.65 434.32 L312.7 420.74 L312.74 411.04 L312.84 402.12 L312.99 396.68 L313.27 394.36 L313.66 392.8 L314.53 391.25 L315.6 390.28 L315.7 447.9 L315.7 447.9 L315.75 434.32 L315.8 420.74 L315.84 411.04 L315.94 402.12 L316.09 396.68 L316.37 394.36 L316.76 392.8 L317.63 391.25 L318.7 390.28 L318.8 447.9 L318.8 447.9 L318.85 434.32 L318.9 420.74 L318.94 411.04 L319.04 402.12 L319.19 396.68 L319.47 394.36 L319.86 392.8 L320.73 391.25 L321.7 390.28 L321.8 447.9 L321.8 447.9 L321.85 434.32 L321.9 420.74 L321.94 411.04 L322.04 402.12 L322.19 396.68 L322.47 394.36 L322.86 392.8 L323.73 391.25 L325.2 390.28 L325.3 447.9 L325.3 447.9 L325.35 434.32 L325.4 420.74 L325.44 411.04 L325.54 402.12 L325.69 396.68 L325.97 394.36 L326.36 392.8 L327.23 391.25 L327.5 390.28 L327.6 447.9 L327.6 447.9 L327.65 434.32 L327.7 420.74 L327.74 411.04 L327.84 402.12 L327.99 396.68 L328.27 394.36 L328.66 392.8 L329.53 391.25 L330.5 390.28 L330.6 447.9 L330.6 447.9 L330.65 434.32 L330.7 420.74 L330.74 411.04 L330.84 402.12 L330.99 396.68 L331.27 394.36 L331.66 392.8 L332.53 391.25 L334 390.28 L334.1 447.9 L334.1 447.9 L334.15 434.32 L334.2 420.74 L334.24 411.04 L334.34 402.12 L334.49 396.68 L334.77 394.36 L335.16 392.8 L336.03 391.25 L337.1 390.28 L337.2 447.9 L337.2 447.9 L337.25 434.32 L337.3 420.74 L337.34 411.04 L337.44 402.12 L337.59 396.68 L337.87 394.36 L338.26 392.8 L339.13 391.25 L340.3 390.28 L340.4 447.9 L340.4 447.9 L340.45 434.32 L340.5 420.74 L340.54 411.04 L340.64 402.12 L340.79 396.68 L341.07 394.36 L341.46 392.8 L342.33 391.25 L343.2 390.28 L343.3 447.9 L343.3 447.9 L343.35 434.32 L343.4 420.74 L343.44 411.04 L343.54 402.12 L343.69 396.68 L343.97 394.36 L344.36 392.8 L345.23 391.25 L346.2 390.28 L346.3 447.9 L346.3 447.9 L346.35 434.32 L346.4 420.74 L346.44 411.04 L346.54 402.12 L346.69 396.68 L346.97 394.36 L347.36 392.8 L348.23 391.25 L348.9 390.28 L349 447.9 L349 447.9 L349.05 434.32 L349.1 420.74 L349.14 411.04 L349.24 402.12 L349.39 396.68 L349.67 394.36 L350.06 392.8 L350.93 391.25 L352.2 390.28 L352.3 447.9 L352.3 447.9 L352.35 434.32 L352.4 420.74 L352.44 411.04 L352.54 402.12 L352.69 396.68 L352.97 394.36 L353.36 392.8 L354.23 391.25 L355.4 390.28 L355.5 447.9 L355.5 447.9 L355.55 434.32 L355.6 420.74 L355.64 411.04 L355.74 402.12 L355.89 396.68 L356.17 394.36 L356.56 392.8 L357.43 391.25 L358.5 390.28 L358.6 447.9 L358.6 447.9 L358.65 434.32 L358.7 420.74 L358.74 411.04 L358.84 402.12 L358.99 396.68 L359.27 394.36 L359.66 392.8 L360.53 391.25 L361.4 390.28 L361.5 447.9 L361.5 447.9 L361.55 434.32 L361.6 420.74 L361.64 411.04 L361.74 402.12 L361.89 396.68 L362.17 394.36 L362.56 392.8 L363.43 391.25 L364.6 390.28 L364.7 447.9 L364.7 447.9 L364.75 434.32 L364.8 420.74 L364.84 411.04 L364.94 402.12 L365.09 396.68 L365.37 394.36 L365.76 392.8 L366.63 391.25 L368.2 390.28 L368.3 447.9 L368.3 447.9 L368.35 434.32 L368.4 420.74 L368.44 411.04 L368.54 402.12 L368.69 396.68 L368.97 394.36 L369.36 392.8 L370.23 391.25 L371.2 390.28 L371.3 447.9 L371.3 447.9 L371.35 434.32 L371.4 420.74 L371.44 411.04 L371.54 402.12 L371.69 396.68 L371.97 394.36 L372.36 392.8 L373.23 391.25 L374.8 390.28 L374.9 447.9 L374.9 447.9 L374.95 434.32 L375 420.74 L375.04 411.04 L375.14 402.12 L375.29 396.68 L375.57 394.36 L375.96 392.8 L376.83 391.25 L377.8 390.28 L377.9 447.9 L377.9 447.9 L377.95 434.32 L378 420.74 L378.04 411.04 L378.14 402.12 L378.29 396.68 L378.57 394.36 L378.96 392.8 L379.83 391.25 L381.3 390.28 L381.4 447.9 L381.4 447.9 L381.45 434.32 L381.5 420.74 L381.54 411.04 L381.64 402.12 L381.79 396.68 L382.07 394.36 L382.46 392.8 L383.33 391.25 L384.6 390.28 L384.7 447.9 L384.7 447.9 L384.75 434.32 L384.8 420.74 L384.84 411.04 L384.94 402.12 L385.09 396.68 L385.37 394.36 L385.76 392.8 L386.63 391.25 L387.5 390.28 L387.6 447.9 L387.6 447.9 L387.65 434.32 L387.7 420.74 L387.74 411.04 L387.84 402.12 L387.99 396.68 L388.27 394.36 L388.66 392.8 L389.53 391.25 L390.5 390.28 L390.6 447.9 L390.6 447.9 L390.65 434.32 L390.7 420.74 L390.74 411.04 L390.84 402.12 L390.99 396.68 L391.27 394.36 L391.66 392.8 L392.53 391.25 L393.5 390.28 L393.6 447.9 L393.6 447.9 L393.65 434.32 L393.7 420.74 L393.74 411.04 L393.84 402.12 L393.99 396.68 L394.27 394.36 L394.66 392.8 L395.53 391.25 L397.1 390.28 L397.2 447.9 L397.2 447.9 L397.25 434.32 L397.3 420.74 L397.34 411.04 L397.44 402.12 L397.59 396.68 L397.87 394.36 L398.26 392.8 L399.13 391.25 L400.1 390.28 L400.2 447.9 L400.2 447.9 L400.25 434.32 L400.3 420.74 L400.34 411.04 L400.44 402.12 L400.59 396.68 L400.87 394.36 L401.26 392.8 L402.13 391.25 L403 390.28 L403.1 447.9 L403.1 447.9 L403.15 434.32 L403.2 420.74 L403.24 411.04 L403.34 402.12 L403.49 396.68 L403.77 394.36 L404.16 392.8 L405.03 391.25 L406.7 390.28 L406.8 447.9 L406.8 447.9 L406.85 434.32 L406.9 420.74 L406.94 411.04 L407.04 402.12 L407.19 396.68 L407.47 394.36 L407.86 392.8 L408.73 391.25 L410.2 390.28 L410.3 447.9 L410.3 447.9 L410.35 434.32 L410.4 420.74 L410.44 411.04 L410.54 402.12 L410.69 396.68 L410.97 394.36 L411.36 392.8 L412.23 391.25 L413.5 390.28 L413.6 447.9 L413.6 447.9 L413.65 434.32 L413.7 420.74 L413.74 411.04 L413.84 402.12 L413.99 396.68 L414.27 394.36 L414.66 392.8 L415.53 391.25 L417.5 390.28 L417.6 447.9 L417.6 447.9 L417.65 434.32 L417.7 420.74 L417.74 411.04 L417.84 402.12 L417.99 396.68 L418.27 394.36 L418.66 392.8 L419.53 391.25 L421.1 390.28 L421.2 447.9 L421.2 447.9 L421.25 434.32 L421.3 420.74 L421.34 411.04 L421.44 402.12 L421.59 396.68 L421.87 394.36 L422.26 392.8 L423.13 391.25 L424.3 390.28 L424.4 447.9 L424.4 447.9 L424.45 434.32 L424.5 420.74 L424.54 411.04 L424.64 402.12 L424.79 396.68 L425.07 394.36 L425.46 392.8 L426.33 391.25 L428 390.28 L428.1 447.9 L428.1 447.9 L428.15 434.32 L428.2 420.74 L428.24 411.04 L428.34 402.12 L428.49 396.68 L428.77 394.36 L429.16 392.8 L430.03 391.25 L431.9 390.28 L432 447.9 L432 447.9 L432.05 434.32 L432.1 420.74 L432.14 411.04 L432.24 402.12 L432.39 396.68 L432.67 394.36 L433.06 392.8 L433.93 391.25 L435.6 390.28 L435.7 447.9 L435.7 447.9 L435.75 434.32 L435.8 420.74 L435.84 411.04 L435.94 402.12 L436.09 396.68 L436.37 394.36 L436.76 392.8 L437.63 391.25 L438.5 390.28 L438.6 447.9 L438.6 447.9 L438.65 434.32 L438.7 420.74 L438.74 411.04 L438.84 402.12 L438.99 396.68 L439.27 394.36 L439.66 392.8 L440.53 391.25 L441.8 390.28 L441.9 447.9 L441.9 447.9 L441.95 434.32 L442 420.74 L442.04 411.04 L442.14 402.12 L442.29 396.68 L442.57 394.36 L442.96 392.8 L443.83 391.25 L445.7 390.28 L445.8 447.9 L445.8 447.9 L445.85 434.32 L445.9 420.74 L445.94 411.04 L446.04 402.12 L446.19 396.68 L446.47 394.36 L446.86 392.8 L447.73 391.25 L449.6 390.28 L449.7 447.9 L449.7 447.9 L449.75 434.32 L449.8 420.74 L449.84 411.04 L449.94 402.12 L450.09 396.68 L450.37 394.36 L450.76 392.8 L451.63 391.25 L453.2 390.28 L453.3 447.9 L453.3 447.9 L453.35 434.32 L453.4 420.74 L453.44 411.04 L453.54 402.12 L453.69 396.68 L453.97 394.36 L454.36 392.8 L455.23 391.25 L457.1 390.28 L457.2 447.9 L457.2 447.9 L457.25 434.32 L457.3 420.74 L457.34 411.04 L457.44 402.12 L457.59 396.68 L457.87 394.36 L458.26 392.8 L459.13 391.25 L461.1 390.28 L461.2 447.9 L461.2 447.9 L461.25 434.32 L461.3 420.74 L461.34 411.04 L461.44 402.12 L461.59 396.68 L461.87 394.36 L462.26 392.8 L463.13 391.25 L464.6 390.28 L464.7 447.9 L464.7 447.9 L464.75 434.32 L464.8 420.74 L464.84 411.04 L464.94 402.12 L465.09 396.68 L465.37 394.36 L465.76 392.8 L466.63 391.25 L468.3 390.28 L468.4 447.9 L468.4 447.9 L468.45 434.32 L468.5 420.74 L468.54 411.04 L468.64 402.12 L468.79 396.68 L469.07 394.36 L469.46 392.8 L470.33 391.25 L472.2 390.28 L472.3 447.9 L472.3 447.9 L472.35 434.32 L472.4 420.74 L472.44 411.04 L472.54 402.12 L472.69 396.68 L472.97 394.36 L473.36 392.8 L474.23 391.25 L476.2 390.28 L476.3 447.9 L476.3 447.9 L476.35 434.32 L476.4 420.74 L476.44 411.04 L476.54 402.12 L476.69 396.68 L476.97 394.36 L477.36 392.8 L478.23 391.25 L481.2 390.28 L481.3 447.9 L481.3 447.9 L481.35 434.32 L481.4 420.74 L481.44 411.04 L481.54 402.12 L481.69 396.68 L481.97 394.36 L482.36 392.8 L483.23 391.25 L485.6 390.28 L485.7 447.9 L485.7 447.9 L485.75 434.32 L485.8 420.74 L485.84 411.04 L485.94 402.12 L486.09 396.68 L486.37 394.36 L486.76 392.8 L487.63 391.25 L489.6 390.28 L489.7 447.9 L489.7 447.9 L489.75 434.32 L489.8 420.74 L489.84 411.04 L489.94 402.12 L490.09 396.68 L490.37 394.36 L490.76 392.8 L491.63 391.25 L494.6 390.28 L494.7 447.9 L494.7 447.9 L494.75 434.32 L494.8 420.74 L494.84 411.04 L494.94 402.12 L495.09 396.68 L495.37 394.36 L495.76 392.8 L496.63 391.25 L499.2 390.28 L499.3 447.9 L499.3 447.9 L499.35 434.32 L499.4 420.74 L499.44 411.04 L499.54 402.12 L499.69 396.68 L499.97 394.36 L500.36 392.8 L501.23 391.25 L504.1 390.28 L504.2 447.9 L504.2 447.9 L504.25 434.32 L504.3 420.74 L504.34 411.04 L504.44 402.12 L504.59 396.68 L504.87 394.36 L505.26 392.8 L506.13 391.25 L508.4 390.28 L508.5 447.9 L508.5 447.9 L508.55 434.32 L508.6 420.74 L508.64 411.04 L508.74 402.12 L508.89 396.68 L509.17 394.36 L509.56 392.8 L510.43 391.25 L511.9 390.28 L512 447.9 L512 447.9 L512.05 434.32 L512.1 420.74 L512.14 411.04 L512.24 402.12 L512.39 396.68 L512.67 394.36 L513.06 392.8 L513.93 391.25 L515.9 390.28 L516 447.9 L516 447.9 L516.05 434.32 L516.1 420.74 L516.14 411.04 L516.24 402.12 L516.39 396.68 L516.67 394.36 L517.06 392.8 L517.93 391.25 L520.6 390.28 L520.7 447.9 L520.7 447.9 L520.75 434.32 L520.8 420.74 L520.84 411.04 L520.94 402.12 L521.09 396.68 L521.37 394.36 L521.76 392.8 L522.63 391.25 L524.5 390.28 L524.6 447.9 L524.6 447.9 L524.65 434.32 L524.7 420.74 L524.74 411.04 L524.84 402.12 L524.99 396.68 L525.27 394.36 L525.66 392.8 L526.53 391.25 L528.5 390.28 L528.6 447.9 L528.6 447.9 L528.65 434.32 L528.7 420.74 L528.74 411.04 L528.84 402.12 L528.99 396.68 L529.27 394.36 L529.66 392.8 L530.53 391.25 L532.4 390.28 L532.5 447.9 L532.5 447.9 L532.55 434.32 L532.6 420.74 L532.64 411.04 L532.74 402.12 L532.89 396.68 L533.17 394.36 L533.56 392.8 L534.43 391.25 L536.4 390.28 L536.5 447.9 L536.5 447.9 L536.55 434.32 L536.6 420.74 L536.64 411.04 L536.74 402.12 L536.89 396.68 L537.17 394.36" stroke="#3363bd" stroke-width="0.8" fill="none" stroke-linejoin="round"/>
<line x1="200.3" y1="519.3" x2="537.3" y2="519.3" stroke="#ec4a4a" stroke-width="0.9"/>
<line x1="202.2" y1="519.3" x2="202.2" y2="465.9" stroke="#ec4a4a" stroke-width="0.8"/>
<line x1="205.2" y1="519.3" x2="205.2" y2="469.13" stroke="#ec4a4a" stroke-width="0.8"/>
<line x1="207.8" y1="519.3" x2="207.8" y2="469.65" stroke="#ec4a4a" stroke-width="0.8"/>
<line x1="209.9" y1="519.3" x2="209.9" y2="468.15" stroke="#ec4a4a" stroke-width="0.8"/>
<line x1="212.7" y1="519.3" x2="212.7" y2="469.88" stroke="#ec4a4a" stroke-width="0.8"/>
<line x1="215.4" y1="519.3" x2="215.4" y2="468.49" stroke="#ec4a4a" stroke-width="0.8"/>
<line x1="218.6" y1="519.3" x2="218.6" y2="469" stroke="#ec4a4a" stroke-width="0.8"/>
<line x1="221.6" y1="519.3" x2="221.6" y2="469.93" stroke="#ec4a4a" stroke-width="0.8"/>
<line x1="224.5" y1="519.3" x2="224.5" y2="468.58" stroke="#ec4a4a" stroke-width="0.8"/>
<line x1="227.5" y1="519.3" x2="227.5" y2="469.99" stroke="#ec4a4a" stroke-width="0.8"/>
<line x1="230.4" y1="519.3" x2="230.4" y2="468.8" stroke="#ec4a4a" stroke-width="0.8"/>
<line x1="233.2" y1="519.3" x2="233.2" y2="469.89" stroke="#ec4a4a" stroke-width="0.8"/>
<line x1="236.7" y1="519.3" x2="236.7" y2="469.83" stroke="#ec4a4a" stroke-width="0.8"/>
<line x1="239.4" y1="519.3" x2="239.4" y2="468.83" stroke="#ec4a4a" stroke-width="0.8"/>
<line x1="242.4" y1="519.3" x2="242.4" y2="467.62" stroke="#ec4a4a" stroke-width="0.8"/>
<line x1="245.7" y1="519.3" x2="245.7" y2="469.73" stroke="#ec4a4a" stroke-width="0.8"/>
<line x1="248.6" y1="519.3" x2="248.6" y2="469.43" stroke="#ec4a4a" stroke-width="0.8"/>
<line x1="252.5" y1="519.3" x2="252.5" y2="468.22" stroke="#ec4a4a" stroke-width="0.8"/>
<line x1="255.4" y1="519.3" x2="255.4" y2="467.26" stroke="#ec4a4a" stroke-width="0.8"/>
<line x1="258.1" y1="519.3" x2="258.1" y2="468.37" stroke="#ec4a4a" stroke-width="0.8"/>
<line x1="261" y1="519.3" x2="261" y2="468.91" stroke="#ec4a4a" stroke-width="0.8"/>
<line x1="264" y1="519.3" x2="264" y2="467.17" stroke="#ec4a4a" stroke-width="0.8"/>
<line x1="267.6" y1="519.3" x2="267.6" y2="469.96" stroke="#ec4a4a" stroke-width="0.8"/>
<line x1="270.6" y1="519.3" x2="270.6" y2="467.52" stroke="#ec4a4a" stroke-width="0.8"/>
<line x1="273.8" y1="519.3" x2="273.8" y2="469.23" stroke="#ec4a4a" stroke-width="0.8"/>
<line x1="276.8" y1="519.3" x2="276.8" y2="469.67" stroke="#ec4a4a" stroke-width="0.8"/>
<line x1="280.4" y1="519.3" x2="280.4" y2="469.75" stroke="#ec4a4a" stroke-width="0.8"/>
<line x1="283.3" y1="519.3" x2="283.3" y2="469.17" stroke="#ec4a4a" stroke-width="0.8"/>
<line x1="286.2" y1="519.3" x2="286.2" y2="467.65" stroke="#ec4a4a" stroke-width="0.8"/>
<line x1="289.9" y1="519.3" x2="289.9" y2="469.56" stroke="#ec4a4a" stroke-width="0.8"/>
<line x1="292.9" y1="519.3" x2="292.9" y2="468.36" stroke="#ec4a4a" stroke-width="0.8"/>
<line x1="296.4" y1="519.3" x2="296.4" y2="468.18" stroke="#ec4a4a" stroke-width="0.8"/>
<line x1="299.7" y1="519.3" x2="299.7" y2="468.98" stroke="#ec4a4a" stroke-width="0.8"/>
<line x1="303.4" y1="519.3" x2="303.4" y2="468.46" stroke="#ec4a4a" stroke-width="0.8"/>
<line x1="306.5" y1="519.3" x2="306.5" y2="469.91" stroke="#ec4a4a" stroke-width="0.8"/>
<line x1="309.6" y1="519.3" x2="309.6" y2="469.92" stroke="#ec4a4a" stroke-width="0.8"/>
<line x1="312.6" y1="519.3" x2="312.6" y2="469.48" stroke="#ec4a4a" stroke-width="0.8"/>
<line x1="315.7" y1="519.3" x2="315.7" y2="468.06" stroke="#ec4a4a" stroke-width="0.8"/>
<line x1="318.8" y1="519.3" x2="318.8" y2="468.82" stroke="#ec4a4a" stroke-width="0.8"/>
<line x1="321.8" y1="519.3" x2="321.8" y2="469.16" stroke="#ec4a4a" stroke-width="0.8"/>
<line x1="325.3" y1="519.3" x2="325.3" y2="468.34" stroke="#ec4a4a" stroke-width="0.8"/>
<line x1="327.6" y1="519.3" x2="327.6" y2="468.74" stroke="#ec4a4a" stroke-width="0.8"/>
<line x1="330.6" y1="519.3" x2="330.6" y2="469.2" stroke="#ec4a4a" stroke-width="0.8"/>
<line x1="334.1" y1="519.3" x2="334.1" y2="467.72" stroke="#ec4a4a" stroke-width="0.8"/>
<line x1="337.2" y1="519.3" x2="337.2" y2="468" stroke="#ec4a4a" stroke-width="0.8"/>
<line x1="340.4" y1="519.3" x2="340.4" y2="469.37" stroke="#ec4a4a" stroke-width="0.8"/>
<line x1="343.3" y1="519.3" x2="343.3" y2="468.38" stroke="#ec4a4a" stroke-width="0.8"/>
<line x1="346.3" y1="519.3" x2="346.3" y2="468.52" stroke="#ec4a4a" stroke-width="0.8"/>
<line x1="349" y1="519.3" x2="349" y2="467.47" stroke="#ec4a4a" stroke-width="0.8"/>
<line x1="352.3" y1="519.3" x2="352.3" y2="467.91" stroke="#ec4a4a" stroke-width="0.8"/>
<line x1="355.5" y1="519.3" x2="355.5" y2="469.24" stroke="#ec4a4a" stroke-width="0.8"/>
<line x1="358.6" y1="519.3" x2="358.6" y2="467.16" stroke="#ec4a4a" stroke-width="0.8"/>
<line x1="361.5" y1="519.3" x2="361.5" y2="469.75" stroke="#ec4a4a" stroke-width="0.8"/>
<line x1="364.7" y1="519.3" x2="364.7" y2="468.85" stroke="#ec4a4a" stroke-width="0.8"/>
<line x1="368.3" y1="519.3" x2="368.3" y2="469.26" stroke="#ec4a4a" stroke-width="0.8"/>
<line x1="371.3" y1="519.3" x2="371.3" y2="470.89" stroke="#ec4a4a" stroke-width="0.8"/>
<line x1="374.9" y1="519.3" x2="374.9" y2="469.98" stroke="#ec4a4a" stroke-width="0.8"/>
<line x1="377.9" y1="519.3" x2="377.9" y2="471.19" stroke="#ec4a4a" stroke-width="0.8"/>
<line x1="381.4" y1="519.3" x2="381.4" y2="469.5" stroke="#ec4a4a" stroke-width="0.8"/>
<line x1="384.7" y1="519.3" x2="384.7" y2="469.24" stroke="#ec4a4a" stroke-width="0.8"/>
<line x1="387.6" y1="519.3" x2="387.6" y2="469.75" stroke="#ec4a4a" stroke-width="0.8"/>
<line x1="390.6" y1="519.3" x2="390.6" y2="468.94" stroke="#ec4a4a" stroke-width="0.8"/>
<line x1="393.6" y1="519.3" x2="393.6" y2="470.45" stroke="#ec4a4a" stroke-width="0.8"/>
<line x1="397.2" y1="519.3" x2="397.2" y2="469.42" stroke="#ec4a4a" stroke-width="0.8"/>
<line x1="400.2" y1="519.3" x2="400.2" y2="469.7" stroke="#ec4a4a" stroke-width="0.8"/>
<line x1="403.1" y1="519.3" x2="403.1" y2="469.73" stroke="#ec4a4a" stroke-width="0.8"/>
<line x1="406.8" y1="519.3" x2="406.8" y2="470.07" stroke="#ec4a4a" stroke-width="0.8"/>
<line x1="410.3" y1="519.3" x2="410.3" y2="469.03" stroke="#ec4a4a" stroke-width="0.8"/>
<line x1="413.6" y1="519.3" x2="413.6" y2="468.75" stroke="#ec4a4a" stroke-width="0.8"/>
<line x1="417.6" y1="519.3" x2="417.6" y2="470.02" stroke="#ec4a4a" stroke-width="0.8"/>
<line x1="421.2" y1="519.3" x2="421.2" y2="469.51" stroke="#ec4a4a" stroke-width="0.8"/>
<line x1="424.4" y1="519.3" x2="424.4" y2="471.14" stroke="#ec4a4a" stroke-width="0.8"/>
<line x1="428.1" y1="519.3" x2="428.1" y2="469.41" stroke="#ec4a4a" stroke-width="0.8"/>
<line x1="432" y1="519.3" x2="432" y2="469.55" stroke="#ec4a4a" stroke-width="0.8"/>
<line x1="435.7" y1="519.3" x2="435.7" y2="468.62" stroke="#ec4a4a" stroke-width="0.8"/>
<line x1="438.6" y1="519.3" x2="438.6" y2="469.08" stroke="#ec4a4a" stroke-width="0.8"/>
<line x1="441.9" y1="519.3" x2="441.9" y2="470.53" stroke="#ec4a4a" stroke-width="0.8"/>
<line x1="445.8" y1="519.3" x2="445.8" y2="470.26" stroke="#ec4a4a" stroke-width="0.8"/>
<line x1="449.7" y1="519.3" x2="449.7" y2="469.49" stroke="#ec4a4a" stroke-width="0.8"/>
<line x1="453.3" y1="519.3" x2="453.3" y2="472.44" stroke="#ec4a4a" stroke-width="0.8"/>
<line x1="457.2" y1="519.3" x2="457.2" y2="471.25" stroke="#ec4a4a" stroke-width="0.8"/>
<line x1="461.2" y1="519.3" x2="461.2" y2="472.05" stroke="#ec4a4a" stroke-width="0.8"/>
<line x1="464.7" y1="519.3" x2="464.7" y2="472.18" stroke="#ec4a4a" stroke-width="0.8"/>
<line x1="468.4" y1="519.3" x2="468.4" y2="472.34" stroke="#ec4a4a" stroke-width="0.8"/>
<line x1="472.3" y1="519.3" x2="472.3" y2="470.43" stroke="#ec4a4a" stroke-width="0.8"/>
<line x1="476.3" y1="519.3" x2="476.3" y2="472.15" stroke="#ec4a4a" stroke-width="0.8"/>
<line x1="481.3" y1="519.3" x2="481.3" y2="471.83" stroke="#ec4a4a" stroke-width="0.8"/>
<line x1="485.7" y1="519.3" x2="485.7" y2="471.44" stroke="#ec4a4a" stroke-width="0.8"/>
<line x1="489.7" y1="519.3" x2="489.7" y2="470.15" stroke="#ec4a4a" stroke-width="0.8"/>
<line x1="494.7" y1="519.3" x2="494.7" y2="472.28" stroke="#ec4a4a" stroke-width="0.8"/>
<line x1="499.3" y1="519.3" x2="499.3" y2="471.29" stroke="#ec4a4a" stroke-width="0.8"/>
<line x1="504.2" y1="519.3" x2="504.2" y2="471.02" stroke="#ec4a4a" stroke-width="0.8"/>
<line x1="508.5" y1="519.3" x2="508.5" y2="470.11" stroke="#ec4a4a" stroke-width="0.8"/>
<line x1="512" y1="519.3" x2="512" y2="470.29" stroke="#ec4a4a" stroke-width="0.8"/>
<line x1="516" y1="519.3" x2="516" y2="470.17" stroke="#ec4a4a" stroke-width="0.8"/>
<line x1="520.7" y1="519.3" x2="520.7" y2="471.75" stroke="#ec4a4a" stroke-width="0.8"/>
<line x1="524.6" y1="519.3" x2="524.6" y2="471.38" stroke="#ec4a4a" stroke-width="0.8"/>
<line x1="528.6" y1="519.3" x2="528.6" y2="471.53" stroke="#ec4a4a" stroke-width="0.8"/>
<line x1="532.5" y1="519.3" x2="532.5" y2="470.11" stroke="#ec4a4a" stroke-width="0.8"/>
<line x1="536.5" y1="519.3" x2="536.5" y2="469.91" stroke="#ec4a4a" stroke-width="0.8"/>
<rect x="196.4" y="380.5" width="343.8" height="142.9" fill="none" stroke="#666" stroke-width="1"/>
<line x1="196.4" y1="451.6" x2="540.2" y2="451.6" stroke="#a0a0a0" stroke-width="1.6"/>
<line x1="196.4" y1="447.9" x2="193" y2="447.9" stroke="#666" stroke-width="1"/>
<line x1="196.4" y1="428.5" x2="193" y2="428.5" stroke="#666" stroke-width="1"/>
<line x1="196.4" y1="409.1" x2="193" y2="409.1" stroke="#666" stroke-width="1"/>
<line x1="196.4" y1="389.7" x2="193" y2="389.7" stroke="#666" stroke-width="1"/>
<line x1="196.4" y1="438.2" x2="194.9" y2="438.2" stroke="#666" stroke-width="1"/>
<line x1="196.4" y1="418.8" x2="194.9" y2="418.8" stroke="#666" stroke-width="1"/>
<line x1="196.4" y1="399.4" x2="194.9" y2="399.4" stroke="#666" stroke-width="1"/>
<line x1="196.4" y1="519.3" x2="193" y2="519.3" stroke="#666" stroke-width="1"/>
<line x1="196.4" y1="504.3" x2="193" y2="504.3" stroke="#666" stroke-width="1"/>
<line x1="196.4" y1="489.3" x2="193" y2="489.3" stroke="#666" stroke-width="1"/>
<line x1="196.4" y1="474.3" x2="193" y2="474.3" stroke="#666" stroke-width="1"/>
<line x1="196.4" y1="459.3" x2="193" y2="459.3" stroke="#666" stroke-width="1"/>
<line x1="196.4" y1="511.8" x2="194.9" y2="511.8" stroke="#666" stroke-width="1"/>
<line x1="196.4" y1="496.8" x2="194.9" y2="496.8" stroke="#666" stroke-width="1"/>
<line x1="196.4" y1="481.8" x2="194.9" y2="481.8" stroke="#666" stroke-width="1"/>
<line x1="196.4" y1="466.8" x2="194.9" y2="466.8" stroke="#666" stroke-width="1"/>
<line x1="200.5" y1="523.4" x2="200.5" y2="526" stroke="#666" stroke-width="1"/>
<line x1="248.66" y1="523.4" x2="248.66" y2="526" stroke="#666" stroke-width="1"/>
<line x1="296.81" y1="523.4" x2="296.81" y2="526" stroke="#666" stroke-width="1"/>
<line x1="344.97" y1="523.4" x2="344.97" y2="526" stroke="#666" stroke-width="1"/>
<line x1="393.12" y1="523.4" x2="393.12" y2="526" stroke="#666" stroke-width="1"/>
<line x1="441.27" y1="523.4" x2="441.27" y2="526" stroke="#666" stroke-width="1"/>
<line x1="489.43" y1="523.4" x2="489.43" y2="526" stroke="#666" stroke-width="1"/>
<line x1="537.59" y1="523.4" x2="537.59" y2="526" stroke="#666" stroke-width="1"/>
<line x1="224.58" y1="523.4" x2="224.58" y2="524.9" stroke="#666" stroke-width="1"/>
<line x1="272.73" y1="523.4" x2="272.73" y2="524.9" stroke="#666" stroke-width="1"/>
<line x1="320.89" y1="523.4" x2="320.89" y2="524.9" stroke="#666" stroke-width="1"/>
<line x1="369.04" y1="523.4" x2="369.04" y2="524.9" stroke="#666" stroke-width="1"/>
<line x1="417.2" y1="523.4" x2="417.2" y2="524.9" stroke="#666" stroke-width="1"/>
<line x1="465.35" y1="523.4" x2="465.35" y2="524.9" stroke="#666" stroke-width="1"/>
<line x1="513.51" y1="523.4" x2="513.51" y2="524.9" stroke="#666" stroke-width="1"/>
<text x="190.8" y="450.65" font-size="9.7" text-anchor="end" fill="#1a1a1a" color="#1a1a1a" textLength="12.23" lengthAdjust="spacingAndGlyphs">0.0</text>
<text x="190.8" y="431.25" font-size="9.7" text-anchor="end" fill="#1a1a1a" color="#1a1a1a" textLength="12.23" lengthAdjust="spacingAndGlyphs">0.1</text>
<text x="190.8" y="411.85" font-size="9.7" text-anchor="end" fill="#1a1a1a" color="#1a1a1a" textLength="12.23" lengthAdjust="spacingAndGlyphs">0.2</text>
<text x="190.8" y="392.45" font-size="9.7" text-anchor="end" fill="#1a1a1a" color="#1a1a1a" textLength="12.23" lengthAdjust="spacingAndGlyphs">0.3</text>
<text x="190.8" y="522.05" font-size="9.7" text-anchor="end" fill="#1a1a1a" color="#1a1a1a" textLength="4.89" lengthAdjust="spacingAndGlyphs">0</text>
<text x="190.8" y="507.05" font-size="9.7" text-anchor="end" fill="#1a1a1a" color="#1a1a1a" textLength="4.89" lengthAdjust="spacingAndGlyphs">5</text>
<text x="190.8" y="492.05" font-size="9.7" text-anchor="end" fill="#1a1a1a" color="#1a1a1a" textLength="9.79" lengthAdjust="spacingAndGlyphs">10</text>
<text x="190.8" y="477.05" font-size="9.7" text-anchor="end" fill="#1a1a1a" color="#1a1a1a" textLength="9.79" lengthAdjust="spacingAndGlyphs">15</text>
<text x="190.8" y="462.05" font-size="9.7" text-anchor="end" fill="#1a1a1a" color="#1a1a1a" textLength="9.79" lengthAdjust="spacingAndGlyphs">20</text>
<text x="200.5" y="535" font-size="9.7" text-anchor="middle" fill="#1a1a1a" color="#1a1a1a" textLength="4.89" lengthAdjust="spacingAndGlyphs">0</text>
<text x="248.66" y="535" font-size="9.7" text-anchor="middle" fill="#1a1a1a" color="#1a1a1a" textLength="14.68" lengthAdjust="spacingAndGlyphs">500</text>
<text x="296.81" y="535" font-size="9.7" text-anchor="middle" fill="#1a1a1a" color="#1a1a1a" textLength="19.57" lengthAdjust="spacingAndGlyphs">1000</text>
<text x="344.97" y="535" font-size="9.7" text-anchor="middle" fill="#1a1a1a" color="#1a1a1a" textLength="19.57" lengthAdjust="spacingAndGlyphs">1500</text>
<text x="393.12" y="535" font-size="9.7" text-anchor="middle" fill="#1a1a1a" color="#1a1a1a" textLength="19.57" lengthAdjust="spacingAndGlyphs">2000</text>
<text x="441.27" y="535" font-size="9.7" text-anchor="middle" fill="#1a1a1a" color="#1a1a1a" textLength="19.57" lengthAdjust="spacingAndGlyphs">2500</text>
<text x="489.43" y="535" font-size="9.7" text-anchor="middle" fill="#1a1a1a" color="#1a1a1a" textLength="19.57" lengthAdjust="spacingAndGlyphs">3000</text>
<text x="537.59" y="535" font-size="9.7" text-anchor="middle" fill="#1a1a1a" color="#1a1a1a" textLength="19.57" lengthAdjust="spacingAndGlyphs">3500</text>
<text x="368" y="549.1" font-size="11.2" text-anchor="middle" fill="#1a1a1a" color="#1a1a1a" textLength="40.6">Time (s)</text>
<text x="159.9" y="415.9" font-size="10.4" text-anchor="middle" fill="#1a1a1a" color="#1a1a1a" transform="rotate(-90 159.9 415.9)">Voltage</text>
<text x="172.5" y="415.7" font-size="10.4" text-anchor="middle" fill="#1a1a1a" color="#1a1a1a" transform="rotate(-90 172.5 415.7)">(V)</text>
<text x="159.2" y="487.5" font-size="10.2" text-anchor="middle" fill="#1a1a1a" color="#1a1a1a" transform="rotate(-90 159.2 487.5)" textLength="67.4">Current density</text>
<text x="173.1" y="487.5" font-size="10.2" text-anchor="middle" fill="#1a1a1a" color="#1a1a1a" transform="rotate(-90 173.1 487.5)">(µA/cm<tspan dy="-3.5" font-size="7">2</tspan><tspan dy="3.5">)</tspan></text>
<text x="152.4" y="385.3" font-size="13" text-anchor="start" fill="#111" color="#111" font-weight="bold">h</text>
<rect x="593.4" y="380.4" width="58.3" height="143.2" fill="#f8f6fb" stroke="none" stroke-width="1"/>
<line x1="609.2" y1="380.4" x2="609.2" y2="523.6" stroke="#bbb" stroke-width="0.8" stroke-dasharray="1.2 1.2"/>
<path d="M593.4 389.9 L608.0 389.9 L609.1 446.6 L609.1 446.6 C609.22 445 609.55 440.43 609.8 437 C610.05 433.57 610.28 429.78 610.6 426 C610.92 422.22 611.32 417.42 611.7 414.3 C612.08 411.18 612.32 409.55 612.9 407.3 C613.48 405.05 614.22 402.57 615.2 400.8 C616.18 399.03 617.42 397.77 618.8 396.7 C620.18 395.63 621.55 395.08 623.5 394.4 C625.45 393.72 627.77 393.1 630.5 392.6 C633.23 392.1 636.45 391.78 639.9 391.4 C643.35 391.02 649.32 390.48 651.2 390.3" stroke="#3e6ec4" stroke-width="1.0" fill="none"/>
<line x1="593.4" y1="518.9" x2="651.7" y2="518.9" stroke="#ec4a4a" stroke-width="1.0"/>
<line x1="608.6" y1="518.9" x2="608.6" y2="471.06" stroke="#ec4a4a" stroke-width="1.0"/>
<rect x="593.4" y="380.4" width="58.3" height="143.2" fill="none" stroke="#777" stroke-width="1"/>
<line x1="593.4" y1="451.3" x2="651.7" y2="451.3" stroke="#888" stroke-width="1"/>
<line x1="593.4" y1="447.6" x2="590" y2="447.6" stroke="#666" stroke-width="1"/>
<line x1="593.4" y1="428.37" x2="590" y2="428.37" stroke="#666" stroke-width="1"/>
<line x1="593.4" y1="409.14" x2="590" y2="409.14" stroke="#666" stroke-width="1"/>
<line x1="593.4" y1="389.91" x2="590" y2="389.91" stroke="#666" stroke-width="1"/>
<line x1="593.4" y1="437.99" x2="591.9" y2="437.99" stroke="#666" stroke-width="1"/>
<line x1="593.4" y1="418.75" x2="591.9" y2="418.75" stroke="#666" stroke-width="1"/>
<line x1="593.4" y1="399.53" x2="591.9" y2="399.53" stroke="#666" stroke-width="1"/>
<line x1="593.4" y1="518.9" x2="590" y2="518.9" stroke="#666" stroke-width="1"/>
<line x1="593.4" y1="503.95" x2="590" y2="503.95" stroke="#666" stroke-width="1"/>
<line x1="593.4" y1="489" x2="590" y2="489" stroke="#666" stroke-width="1"/>
<line x1="593.4" y1="474.05" x2="590" y2="474.05" stroke="#666" stroke-width="1"/>
<line x1="593.4" y1="459.1" x2="590" y2="459.1" stroke="#666" stroke-width="1"/>
<line x1="593.4" y1="511.42" x2="591.9" y2="511.42" stroke="#666" stroke-width="1"/>
<line x1="593.4" y1="496.47" x2="591.9" y2="496.47" stroke="#666" stroke-width="1"/>
<line x1="593.4" y1="481.52" x2="591.9" y2="481.52" stroke="#666" stroke-width="1"/>
<line x1="593.4" y1="466.57" x2="591.9" y2="466.57" stroke="#666" stroke-width="1"/>
<line x1="608.12" y1="523.6" x2="608.12" y2="526.2" stroke="#666" stroke-width="1"/>
<line x1="637.57" y1="523.6" x2="637.57" y2="526.2" stroke="#666" stroke-width="1"/>
<line x1="593.4" y1="523.6" x2="593.4" y2="525.1" stroke="#666" stroke-width="1"/>
<line x1="622.85" y1="523.6" x2="622.85" y2="525.1" stroke="#666" stroke-width="1"/>
<line x1="652.3" y1="523.6" x2="652.3" y2="525.1" stroke="#666" stroke-width="1"/>
<text x="588" y="450.35" font-size="9.7" text-anchor="end" fill="#1a1a1a" color="#1a1a1a" textLength="12.23" lengthAdjust="spacingAndGlyphs">0.0</text>
<text x="588" y="431.12" font-size="9.7" text-anchor="end" fill="#1a1a1a" color="#1a1a1a" textLength="12.23" lengthAdjust="spacingAndGlyphs">0.1</text>
<text x="588" y="411.89" font-size="9.7" text-anchor="end" fill="#1a1a1a" color="#1a1a1a" textLength="12.23" lengthAdjust="spacingAndGlyphs">0.2</text>
<text x="588" y="392.66" font-size="9.7" text-anchor="end" fill="#1a1a1a" color="#1a1a1a" textLength="12.23" lengthAdjust="spacingAndGlyphs">0.3</text>
<text x="588" y="521.65" font-size="9.7" text-anchor="end" fill="#1a1a1a" color="#1a1a1a" textLength="4.89" lengthAdjust="spacingAndGlyphs">0</text>
<text x="588" y="506.7" font-size="9.7" text-anchor="end" fill="#1a1a1a" color="#1a1a1a" textLength="4.89" lengthAdjust="spacingAndGlyphs">5</text>
<text x="588" y="491.75" font-size="9.7" text-anchor="end" fill="#1a1a1a" color="#1a1a1a" textLength="9.79" lengthAdjust="spacingAndGlyphs">10</text>
<text x="588" y="476.8" font-size="9.7" text-anchor="end" fill="#1a1a1a" color="#1a1a1a" textLength="9.79" lengthAdjust="spacingAndGlyphs">15</text>
<text x="588" y="461.85" font-size="9.7" text-anchor="end" fill="#1a1a1a" color="#1a1a1a" textLength="9.79" lengthAdjust="spacingAndGlyphs">20</text>
<text x="608.12" y="535" font-size="9.7" text-anchor="middle" fill="#1a1a1a" color="#1a1a1a" textLength="19.57" lengthAdjust="spacingAndGlyphs">3440</text>
<text x="637.57" y="535" font-size="9.7" text-anchor="middle" fill="#1a1a1a" color="#1a1a1a" textLength="19.57" lengthAdjust="spacingAndGlyphs">3460</text>
<text x="622.3" y="549.1" font-size="11.2" text-anchor="middle" fill="#1a1a1a" color="#1a1a1a" textLength="40.2">Time (s)</text>
<text x="647" y="438.9" font-size="9.2" text-anchor="end" fill="#7a3cb8" color="#7a3cb8" font-weight="bold">100th</text>
<text x="647" y="446.8" font-size="9.2" text-anchor="end" fill="#7a3cb8" color="#7a3cb8" font-weight="bold">cycle</text>
<text x="553.5" y="385.2" font-size="13" text-anchor="start" fill="#111" color="#111" font-weight="bold">i</text>
<text x="557.6" y="415.5" font-size="10.4" text-anchor="middle" fill="#1a1a1a" color="#1a1a1a" transform="rotate(-90 557.6 415.5)">Voltage</text>
<text x="569.5" y="415.5" font-size="10.4" text-anchor="middle" fill="#1a1a1a" color="#1a1a1a" transform="rotate(-90 569.5 415.5)">(V)</text>
<text x="557" y="486" font-size="10.2" text-anchor="middle" fill="#1a1a1a" color="#1a1a1a" transform="rotate(-90 557 486)" textLength="68.5">Current density</text>
<text x="570.4" y="484.8" font-size="10.2" text-anchor="middle" fill="#1a1a1a" color="#1a1a1a" transform="rotate(-90 570.4 484.8)">(µA/cm<tspan dy="-3.5" font-size="7">2</tspan><tspan dy="3.5">)</tspan></text>
</svg>
</body></html>
